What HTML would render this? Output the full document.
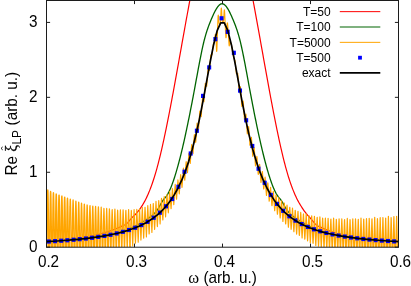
<!DOCTYPE html>
<html><head><meta charset="utf-8"><title>plot</title>
<style>html,body{margin:0;padding:0;background:#fff;}body{width:411px;height:286px;overflow:hidden;position:relative;font-family:"Liberation Sans",sans-serif;}</style>
</head><body>
<svg width="411" height="286" viewBox="0 0 411 286" style="position:absolute;left:0;top:0;display:block">
<defs><clipPath id="c"><rect x="46.5" y="0.5" width="352.0" height="246.7"/></clipPath></defs>
<rect width="411" height="286" fill="#fff"/>
<g clip-path="url(#c)" fill="none" stroke-linejoin="round">
<path d="M46.50,241.02 L47.00,240.99 L47.50,240.96 L48.00,240.94 L48.50,240.91 L49.00,240.88 L49.50,240.86 L50.00,240.83 L50.50,240.80 L51.00,240.77 L51.50,240.75 L52.00,240.72 L52.50,240.69 L53.00,240.66 L53.50,240.63 L54.00,240.60 L54.50,240.57 L55.00,240.53 L55.50,240.50 L56.00,240.47 L56.50,240.44 L57.00,240.40 L57.50,240.37 L58.00,240.34 L58.50,240.30 L59.00,240.27 L59.50,240.23 L60.00,240.19 L60.50,240.16 L61.00,240.12 L61.50,240.08 L62.00,240.04 L62.50,240.00 L63.00,239.96 L63.50,239.92 L64.00,239.88 L64.50,239.83 L65.00,239.79 L65.50,239.74 L66.00,239.70 L66.50,239.65 L67.00,239.61 L67.50,239.56 L68.00,239.51 L68.50,239.46 L69.00,239.41 L69.50,239.36 L70.00,239.31 L70.50,239.26 L71.00,239.20 L71.50,239.15 L72.00,239.09 L72.50,239.03 L73.00,238.98 L73.50,238.92 L74.00,238.86 L74.50,238.80 L75.00,238.74 L75.50,238.67 L76.00,238.61 L76.50,238.54 L77.00,238.48 L77.50,238.41 L78.00,238.34 L78.50,238.27 L79.00,238.20 L79.50,238.13 L80.00,238.06 L80.50,237.98 L81.00,237.91 L81.50,237.83 L82.00,237.75 L82.50,237.67 L83.00,237.59 L83.50,237.51 L84.00,237.43 L84.50,237.35 L85.00,237.26 L85.50,237.17 L86.00,237.08 L86.50,236.99 L87.00,236.90 L87.50,236.81 L88.00,236.72 L88.50,236.62 L89.00,236.52 L89.50,236.42 L90.00,236.32 L90.50,236.22 L91.00,236.12 L91.50,236.01 L92.00,235.91 L92.50,235.80 L93.00,235.69 L93.50,235.58 L94.00,235.47 L94.50,235.35 L95.00,235.24 L95.50,235.12 L96.00,235.00 L96.50,234.88 L97.00,234.76 L97.50,234.63 L98.00,234.51 L98.50,234.38 L99.00,234.25 L99.50,234.12 L100.00,233.99 L100.50,233.85 L101.00,233.72 L101.50,233.58 L102.00,233.44 L102.50,233.30 L103.00,233.15 L103.50,233.01 L104.00,232.86 L104.50,232.71 L105.00,232.56 L105.50,232.40 L106.00,232.25 L106.50,232.09 L107.00,231.93 L107.50,231.77 L108.00,231.60 L108.50,231.44 L109.00,231.27 L109.50,231.10 L110.00,230.93 L110.50,230.76 L111.00,230.58 L111.50,230.40 L112.00,230.22 L112.50,230.04 L113.00,229.85 L113.50,229.67 L114.00,229.48 L114.50,229.29 L115.00,229.09 L115.50,228.90 L116.00,228.70 L116.50,228.50 L117.00,228.30 L117.50,228.09 L118.00,227.89 L118.50,227.68 L119.00,227.46 L119.50,227.25 L120.00,227.03 L120.50,226.81 L121.00,226.59 L121.50,226.37 L122.00,226.14 L122.50,225.91 L123.00,225.68 L123.50,225.45 L124.00,225.21 L124.50,224.97 L125.00,224.72 L125.50,224.44 L126.00,224.12 L126.50,223.75 L127.00,223.33 L127.50,222.85 L128.00,222.32 L128.50,221.76 L129.00,221.18 L129.50,220.58 L130.00,219.97 L130.50,219.36 L131.00,218.77 L131.50,218.20 L132.00,217.66 L132.50,217.15 L133.00,216.66 L133.50,216.18 L134.00,215.70 L134.50,215.22 L135.00,214.73 L135.50,214.21 L136.00,213.69 L136.50,213.14 L137.00,212.58 L137.50,212.00 L138.00,211.40 L138.50,210.78 L139.00,210.15 L139.50,209.49 L140.00,208.81 L140.50,208.10 L141.00,207.38 L141.50,206.63 L142.00,205.86 L142.50,205.06 L143.00,204.23 L143.50,203.38 L144.00,202.50 L144.50,201.60 L145.00,200.67 L145.50,199.70 L146.00,198.71 L146.50,197.69 L147.00,196.63 L147.50,195.55 L148.00,194.43 L148.50,193.28 L149.00,192.09 L149.50,190.87 L150.00,189.62 L150.50,188.33 L151.00,187.00 L151.50,185.63 L152.00,184.23 L152.50,182.79 L153.00,181.31 L153.50,179.80 L154.00,178.24 L154.50,176.64 L155.00,175.00 L155.50,173.32 L156.00,171.60 L156.50,169.84 L157.00,168.04 L157.50,166.19 L158.00,164.30 L158.50,162.37 L159.00,160.41 L159.50,158.40 L160.00,156.36 L160.50,154.28 L161.00,152.17 L161.50,150.02 L162.00,147.84 L162.50,145.63 L163.00,143.38 L163.50,141.11 L164.00,138.80 L164.50,136.47 L165.00,134.11 L165.50,131.72 L166.00,129.31 L166.50,126.87 L167.00,124.41 L167.50,121.92 L168.00,119.41 L168.50,116.88 L169.00,114.33 L169.50,111.76 L170.00,109.17 L170.50,106.57 L171.00,103.94 L171.50,101.30 L172.00,98.64 L172.50,95.97 L173.00,93.28 L173.50,90.58 L174.00,87.87 L174.50,85.15 L175.00,82.41 L175.50,79.67 L176.00,76.92 L176.50,74.15 L177.00,71.39 L177.50,68.61 L178.00,65.83 L178.50,63.04 L179.00,60.25 L179.50,57.46 L180.00,54.66 L180.50,51.87 L181.00,49.07 L181.50,46.27 L182.00,43.47 L182.50,40.68 L183.00,37.89 L183.50,35.10 L184.00,32.31 L184.50,29.53 L185.00,26.76 L185.50,23.99 L186.00,21.23 L186.50,18.48 L187.00,15.74 L187.50,13.01 L188.00,10.29 L188.50,7.58 L189.00,4.88 L189.50,2.20 L190.00,-0.47 L190.50,-3.12 L191.00,-5.76 L191.50,-8.38 L192.00,-10.98 L192.50,-13.57 L193.00,-16.13 L193.50,-18.68 L194.00,-21.20 L194.50,-23.70 L195.00,-26.18 L195.50,-28.64 L196.00,-31.07 L196.50,-33.48 L197.00,-35.86 L197.50,-38.21 L198.00,-40.54 L198.50,-42.83 L199.00,-45.10 L199.50,-47.34 L200.00,-49.55 L200.50,-51.72 L201.00,-53.87 L201.50,-55.98 L202.00,-58.05 L202.50,-60.09 L203.00,-62.09 L203.50,-64.06 L204.00,-65.99 L204.50,-67.88 L205.00,-69.73 L205.50,-71.54 L206.00,-73.32 L206.50,-75.04 L207.00,-76.73 L207.50,-78.37 L208.00,-79.97 L208.50,-81.52 L209.00,-83.03 L209.50,-84.49 L210.00,-85.90 L210.50,-87.27 L211.00,-88.58 L211.50,-89.85 L212.00,-91.06 L212.50,-92.22 L213.00,-93.33 L213.50,-94.38 L214.00,-95.39 L214.50,-96.33 L215.00,-97.22 L215.50,-98.05 L216.00,-98.83 L216.50,-99.55 L217.00,-100.20 L217.50,-100.80 L218.00,-101.34 L218.50,-101.81 L219.00,-102.22 L219.50,-102.57 L220.00,-102.85 L220.50,-103.07 L221.00,-103.23 L221.50,-103.30 L222.00,-103.20 L222.50,-103.03 L223.00,-102.80 L223.50,-102.51 L224.00,-102.15 L224.50,-101.72 L225.00,-101.23 L225.50,-100.69 L226.00,-100.08 L226.50,-99.41 L227.00,-98.68 L227.50,-97.89 L228.00,-97.05 L228.50,-96.15 L229.00,-95.19 L229.50,-94.18 L230.00,-93.11 L230.50,-91.99 L231.00,-90.82 L231.50,-89.60 L232.00,-88.32 L232.50,-87.00 L233.00,-85.62 L233.50,-84.20 L234.00,-82.73 L234.50,-81.22 L235.00,-79.65 L235.50,-78.05 L236.00,-76.40 L236.50,-74.70 L237.00,-72.96 L237.50,-71.19 L238.00,-69.37 L238.50,-67.51 L239.00,-65.61 L239.50,-63.67 L240.00,-61.70 L240.50,-59.69 L241.00,-57.64 L241.50,-55.56 L242.00,-53.44 L242.50,-51.29 L243.00,-49.11 L243.50,-46.90 L244.00,-44.65 L244.50,-42.38 L245.00,-40.07 L245.50,-37.74 L246.00,-35.38 L246.50,-33.00 L247.00,-30.59 L247.50,-28.15 L248.00,-25.69 L248.50,-23.20 L249.00,-20.70 L249.50,-18.17 L250.00,-15.62 L250.50,-13.05 L251.00,-10.46 L251.50,-7.86 L252.00,-5.23 L252.50,-2.59 L253.00,0.06 L253.50,2.74 L254.00,5.42 L254.50,8.12 L255.00,10.83 L255.50,13.55 L256.00,16.29 L256.50,19.03 L257.00,21.78 L257.50,24.54 L258.00,27.31 L258.50,30.09 L259.00,32.87 L259.50,35.65 L260.00,38.44 L260.50,41.24 L261.00,44.03 L261.50,46.83 L262.00,49.63 L262.50,52.43 L263.00,55.22 L263.50,58.02 L264.00,60.81 L264.50,63.60 L265.00,66.39 L265.50,69.17 L266.00,71.94 L266.50,74.71 L267.00,77.47 L267.50,80.22 L268.00,82.96 L268.50,85.69 L269.00,88.42 L269.50,91.12 L270.00,93.82 L270.50,96.51 L271.00,99.17 L271.50,101.83 L272.00,104.47 L272.50,107.09 L273.00,109.69 L273.50,112.28 L274.00,114.85 L274.50,117.39 L275.00,119.92 L275.50,122.42 L276.00,124.90 L276.50,127.36 L277.00,129.79 L277.50,132.20 L278.00,134.58 L278.50,136.94 L279.00,139.27 L279.50,141.56 L280.00,143.83 L280.50,146.07 L281.00,148.28 L281.50,150.45 L282.00,152.59 L282.50,154.70 L283.00,156.77 L283.50,158.80 L284.00,160.80 L284.50,162.76 L285.00,164.68 L285.50,166.56 L286.00,168.40 L286.50,170.20 L287.00,171.95 L287.50,173.66 L288.00,175.33 L288.50,176.96 L289.00,178.55 L289.50,180.10 L290.00,181.61 L290.50,183.08 L291.00,184.52 L291.50,185.91 L292.00,187.27 L292.50,188.59 L293.00,189.87 L293.50,191.12 L294.00,192.33 L294.50,193.51 L295.00,194.66 L295.50,195.77 L296.00,196.85 L296.50,197.89 L297.00,198.91 L297.50,199.90 L298.00,200.85 L298.50,201.78 L299.00,202.68 L299.50,203.55 L300.00,204.40 L300.50,205.22 L301.00,206.01 L301.50,206.79 L302.00,207.59 L302.50,208.37 L303.00,209.13 L303.50,209.87 L304.00,210.58 L304.50,211.28 L305.00,211.95 L305.50,212.60 L306.00,213.24 L306.50,213.86 L307.00,214.46 L307.50,215.04 L308.00,215.61 L308.50,216.17 L309.00,216.71 L309.50,217.24 L310.00,217.78 L310.50,218.33 L311.00,218.91 L311.50,219.51 L312.00,220.08 L312.50,220.68 L313.00,221.29 L313.50,221.90 L314.00,222.50 L314.50,223.08 L315.00,223.63 L315.50,224.15 L316.00,224.62 L316.50,225.03 L317.00,225.39 L317.50,225.70 L318.00,225.97 L318.50,226.22 L319.00,226.46 L319.50,226.70 L320.00,226.93 L320.50,227.16 L321.00,227.39 L321.50,227.61 L322.00,227.84 L322.50,228.06 L323.00,228.28 L323.50,228.49 L324.00,228.71 L324.50,228.92 L325.00,229.13 L325.50,229.33 L326.00,229.54 L326.50,229.74 L327.00,229.94 L327.50,230.14 L328.00,230.33 L328.50,230.53 L329.00,230.72 L329.50,230.91 L330.00,231.09 L330.50,231.28 L331.00,231.46 L331.50,231.64 L332.00,231.82 L332.50,231.99 L333.00,232.16 L333.50,232.34 L334.00,232.51 L334.50,232.67 L335.00,232.84 L335.50,233.00 L336.00,233.16 L336.50,233.32 L337.00,233.48 L337.50,233.63 L338.00,233.79 L338.50,233.94 L339.00,234.09 L339.50,234.23 L340.00,234.38 L340.50,234.52 L341.00,234.67 L341.50,234.81 L342.00,234.94 L342.50,235.08 L343.00,235.21 L343.50,235.35 L344.00,235.48 L344.50,235.61 L345.00,235.73 L345.50,235.86 L346.00,235.98 L346.50,236.10 L347.00,236.20 L347.50,236.29 L348.00,236.39 L348.50,236.48 L349.00,236.57 L349.50,236.66 L350.00,236.74 L350.50,236.83 L351.00,236.91 L351.50,236.99 L352.00,237.07 L352.50,237.15 L353.00,237.23 L353.50,237.31 L354.00,237.38 L354.50,237.45 L355.00,237.52 L355.50,237.59 L356.00,237.66 L356.50,237.73 L357.00,237.79 L357.50,237.86 L358.00,237.92 L358.50,237.98 L359.00,238.04 L359.50,238.10 L360.00,238.16 L360.50,238.22 L361.00,238.27 L361.50,238.33 L362.00,238.38 L362.50,238.43 L363.00,238.48 L363.50,238.53 L364.00,238.58 L364.50,238.62 L365.00,238.67 L365.50,238.71 L366.00,238.75 L366.50,238.80 L367.00,238.84 L367.50,238.88 L368.00,238.91 L368.50,238.95 L369.00,238.99 L369.50,239.02 L370.00,239.06 L370.50,239.09 L371.00,239.12 L371.50,239.16 L372.00,239.21 L372.50,239.27 L373.00,239.32 L373.50,239.37 L374.00,239.42 L374.50,239.47 L375.00,239.52 L375.50,239.57 L376.00,239.62 L376.50,239.66 L377.00,239.71 L377.50,239.75 L378.00,239.80 L378.50,239.84 L379.00,239.88 L379.50,239.93 L380.00,239.97 L380.50,240.01 L381.00,240.05 L381.50,240.09 L382.00,240.13 L382.50,240.16 L383.00,240.20 L383.50,240.24 L384.00,240.27 L384.50,240.31 L385.00,240.34 L385.50,240.38 L386.00,240.41 L386.50,240.44 L387.00,240.48 L387.50,240.51 L388.00,240.54 L388.50,240.57 L389.00,240.60 L389.50,240.63 L390.00,240.66 L390.50,240.69 L391.00,240.72 L391.50,240.75 L392.00,240.78 L392.50,240.81 L393.00,240.83 L393.50,240.86 L394.00,240.89 L394.50,240.92 L395.00,240.94 L395.50,240.97 L396.00,241.00 L396.50,241.02 L397.00,241.05 L397.50,241.07 L398.00,241.10 L398.50,241.12" stroke="#ff0000" stroke-width="1.2"/>
<path d="M46.50,241.38 L47.00,241.32 L47.50,241.27 L48.00,241.21 L48.50,241.15 L49.00,241.09 L49.50,241.04 L50.00,240.99 L50.50,240.93 L51.00,240.88 L51.50,240.83 L52.00,240.78 L52.50,240.73 L53.00,240.69 L53.50,240.64 L54.00,240.60 L54.50,240.55 L55.00,240.51 L55.50,240.46 L56.00,240.42 L56.50,240.38 L57.00,240.34 L57.50,240.30 L58.00,240.26 L58.50,240.22 L59.00,240.18 L59.50,240.15 L60.00,240.11 L60.50,240.07 L61.00,240.04 L61.50,240.00 L62.00,239.97 L62.50,239.93 L63.00,239.90 L63.50,239.86 L64.00,239.83 L64.50,239.80 L65.00,239.77 L65.50,239.73 L66.00,239.70 L66.50,239.67 L67.00,239.64 L67.50,239.61 L68.00,239.57 L68.50,239.54 L69.00,239.51 L69.50,239.48 L70.00,239.45 L70.50,239.42 L71.00,239.39 L71.50,239.36 L72.00,239.33 L72.50,239.30 L73.00,239.27 L73.50,239.24 L74.00,239.20 L74.50,239.17 L75.00,239.14 L75.50,239.11 L76.00,239.08 L76.50,239.04 L77.00,239.01 L77.50,238.98 L78.00,238.94 L78.50,238.91 L79.00,238.88 L79.50,238.84 L80.00,238.81 L80.50,238.77 L81.00,238.74 L81.50,238.70 L82.00,238.66 L82.50,238.62 L83.00,238.59 L83.50,238.55 L84.00,238.51 L84.50,238.47 L85.00,238.42 L85.50,238.38 L86.00,238.34 L86.50,238.30 L87.00,238.25 L87.50,238.21 L88.00,238.16 L88.50,238.11 L89.00,238.07 L89.50,238.02 L90.00,237.97 L90.50,237.92 L91.00,237.86 L91.50,237.81 L92.00,237.76 L92.50,237.70 L93.00,237.65 L93.50,237.59 L94.00,237.53 L94.50,237.47 L95.00,237.41 L95.50,237.35 L96.00,237.28 L96.50,237.22 L97.00,237.15 L97.50,237.08 L98.00,237.01 L98.50,236.94 L99.00,236.87 L99.50,236.80 L100.00,236.72 L100.50,236.65 L101.00,236.57 L101.50,236.49 L102.00,236.41 L102.50,236.32 L103.00,236.24 L103.50,236.15 L104.00,236.07 L104.50,235.98 L105.00,235.88 L105.50,235.79 L106.00,235.70 L106.50,235.60 L107.00,235.50 L107.50,235.40 L108.00,235.30 L108.50,235.19 L109.00,235.09 L109.50,234.98 L110.00,234.87 L110.50,234.75 L111.00,234.64 L111.50,234.52 L112.00,234.40 L112.50,234.28 L113.00,234.16 L113.50,234.03 L114.00,233.90 L114.50,233.77 L115.00,233.64 L115.50,233.51 L116.00,233.37 L116.50,233.23 L117.00,233.09 L117.50,232.95 L118.00,232.80 L118.50,232.65 L119.00,232.50 L119.50,232.34 L120.00,232.19 L120.50,232.03 L121.00,231.87 L121.50,231.70 L122.00,231.53 L122.50,231.37 L123.00,231.19 L123.50,231.02 L124.00,230.84 L124.50,230.66 L125.00,230.48 L125.50,230.29 L126.00,230.10 L126.50,229.91 L127.00,229.71 L127.50,229.51 L128.00,229.31 L128.50,229.11 L129.00,228.90 L129.50,228.69 L130.00,228.48 L130.50,228.26 L131.00,228.04 L131.50,227.82 L132.00,227.60 L132.50,227.37 L133.00,227.13 L133.50,226.90 L134.00,226.66 L134.50,226.42 L135.00,226.17 L135.50,225.93 L136.00,225.67 L136.50,225.42 L137.00,225.16 L137.50,224.90 L138.00,224.63 L138.50,224.36 L139.00,224.09 L139.50,223.81 L140.00,223.53 L140.50,223.25 L141.00,222.96 L141.50,222.67 L142.00,222.38 L142.50,222.08 L143.00,221.78 L143.50,221.47 L144.00,221.16 L144.50,220.85 L145.00,220.53 L145.50,220.21 L146.00,219.88 L146.50,219.55 L147.00,219.22 L147.50,218.88 L148.00,218.54 L148.50,218.20 L149.00,217.85 L149.50,217.50 L150.00,217.14 L150.50,216.77 L151.00,216.40 L151.50,216.01 L152.00,215.61 L152.50,215.19 L153.00,214.76 L153.50,214.30 L154.00,213.82 L154.50,213.32 L155.00,212.79 L155.50,212.23 L156.00,211.64 L156.50,211.01 L157.00,210.35 L157.50,209.65 L158.00,208.91 L158.50,208.13 L159.00,207.30 L159.50,206.42 L160.00,205.52 L160.50,204.60 L161.00,203.68 L161.50,202.78 L162.00,201.91 L162.50,201.08 L163.00,200.32 L163.50,199.64 L164.00,199.03 L164.50,198.46 L165.00,197.90 L165.50,197.33 L166.00,196.71 L166.50,196.03 L167.00,195.29 L167.50,194.48 L168.00,193.61 L168.50,192.68 L169.00,191.69 L169.50,190.65 L170.00,189.55 L170.50,188.40 L171.00,187.19 L171.50,185.94 L172.00,184.63 L172.50,183.28 L173.00,181.89 L173.50,180.45 L174.00,178.96 L174.50,177.43 L175.00,175.87 L175.50,174.26 L176.00,172.61 L176.50,170.92 L177.00,169.19 L177.50,167.43 L178.00,165.62 L178.50,163.78 L179.00,161.91 L179.50,159.99 L180.00,158.05 L180.50,156.06 L181.00,154.05 L181.50,152.00 L182.00,149.92 L182.50,147.81 L183.00,145.66 L183.50,143.49 L184.00,141.29 L184.50,139.06 L185.00,136.79 L185.50,134.51 L186.00,132.19 L186.50,129.85 L187.00,127.48 L187.50,125.09 L188.00,122.67 L188.50,120.23 L189.00,117.77 L189.50,115.28 L190.00,112.77 L190.50,110.24 L191.00,107.69 L191.50,105.12 L192.00,102.53 L192.50,99.92 L193.00,97.30 L193.50,94.66 L194.00,92.00 L194.50,89.32 L195.00,86.63 L195.50,83.93 L196.00,81.21 L196.50,78.49 L197.00,75.77 L197.50,73.05 L198.00,70.35 L198.50,67.67 L199.00,65.01 L199.50,62.39 L200.00,59.80 L200.50,57.26 L201.00,54.76 L201.50,52.32 L202.00,49.95 L202.50,47.64 L203.00,45.41 L203.50,43.26 L204.00,41.19 L204.50,39.22 L205.00,37.34 L205.50,35.55 L206.00,33.85 L206.50,32.23 L207.00,30.67 L207.50,29.19 L208.00,27.76 L208.50,26.38 L209.00,25.05 L209.50,23.76 L210.00,22.50 L210.50,21.27 L211.00,20.06 L211.50,18.87 L212.00,17.70 L212.50,16.55 L213.00,15.43 L213.50,14.34 L214.00,13.29 L214.50,12.27 L215.00,11.29 L215.50,10.36 L216.00,9.47 L216.50,8.64 L217.00,7.86 L217.50,7.13 L218.00,6.47 L218.50,5.87 L219.00,5.34 L219.50,4.87 L220.00,4.48 L220.50,4.17 L221.00,3.94 L221.50,3.79 L222.00,3.73 L222.50,3.76 L223.00,3.87 L223.50,4.07 L224.00,4.35 L224.50,4.71 L225.00,5.14 L225.50,5.65 L226.00,6.22 L226.50,6.86 L227.00,7.56 L227.50,8.32 L228.00,9.13 L228.50,10.00 L229.00,10.91 L229.50,11.87 L230.00,12.88 L230.50,13.92 L231.00,14.99 L231.50,16.10 L232.00,17.24 L232.50,18.40 L233.00,19.58 L233.50,20.78 L234.00,22.01 L234.50,23.25 L235.00,24.53 L235.50,25.84 L236.00,27.20 L236.50,28.61 L237.00,30.07 L237.50,31.60 L238.00,33.19 L238.50,34.86 L239.00,36.62 L239.50,38.46 L240.00,40.39 L240.50,42.42 L241.00,44.54 L241.50,46.74 L242.00,49.02 L242.50,51.37 L243.00,53.78 L243.50,56.25 L244.00,58.78 L244.50,61.35 L245.00,63.96 L245.50,66.61 L246.00,69.28 L246.50,71.97 L247.00,74.68 L247.50,77.40 L248.00,80.12 L248.50,82.84 L249.00,85.55 L249.50,88.25 L250.00,90.93 L250.50,93.59 L251.00,96.24 L251.50,98.88 L252.00,101.49 L252.50,104.09 L253.00,106.67 L253.50,109.22 L254.00,111.76 L254.50,114.28 L255.00,116.77 L255.50,119.25 L256.00,121.70 L256.50,124.12 L257.00,126.53 L257.50,128.90 L258.00,131.26 L258.50,133.58 L259.00,135.88 L259.50,138.15 L260.00,140.40 L260.50,142.61 L261.00,144.80 L261.50,146.95 L262.00,149.08 L262.50,151.17 L263.00,153.23 L263.50,155.26 L264.00,157.26 L264.50,159.22 L265.00,161.15 L265.50,163.04 L266.00,164.89 L266.50,166.71 L267.00,168.49 L267.50,170.23 L268.00,171.94 L268.50,173.60 L269.00,175.23 L269.50,176.81 L270.00,178.36 L270.50,179.86 L271.00,181.32 L271.50,182.73 L272.00,184.10 L272.50,185.42 L273.00,186.70 L273.50,187.92 L274.00,189.10 L274.50,190.22 L275.00,191.28 L275.50,192.29 L276.00,193.25 L276.50,194.14 L277.00,194.97 L277.50,195.74 L278.00,196.45 L278.50,197.09 L279.00,197.68 L279.50,198.24 L280.00,198.80 L280.50,199.39 L281.00,200.04 L281.50,200.77 L282.00,201.57 L282.50,202.42 L283.00,203.32 L283.50,204.23 L284.00,205.15 L284.50,206.07 L285.00,206.95 L285.50,207.80 L286.00,208.60 L286.50,209.36 L287.00,210.08 L287.50,210.75 L288.00,211.39 L288.50,212.00 L289.00,212.57 L289.50,213.11 L290.00,213.63 L290.50,214.11 L291.00,214.58 L291.50,215.02 L292.00,215.45 L292.50,215.85 L293.00,216.24 L293.50,216.62 L294.00,216.99 L294.50,217.35 L295.00,217.71 L295.50,218.06 L296.00,218.41 L296.50,218.75 L297.00,219.09 L297.50,219.42 L298.00,219.75 L298.50,220.08 L299.00,220.40 L299.50,220.72 L300.00,221.04 L300.50,221.35 L301.00,221.65 L301.50,221.96 L302.00,222.26 L302.50,222.55 L303.00,222.85 L303.50,223.13 L304.00,223.42 L304.50,223.70 L305.00,223.98 L305.50,224.25 L306.00,224.52 L306.50,224.79 L307.00,225.05 L307.50,225.31 L308.00,225.57 L308.50,225.82 L309.00,226.07 L309.50,226.32 L310.00,226.56 L310.50,226.80 L311.00,227.04 L311.50,227.27 L312.00,227.50 L312.50,227.73 L313.00,227.96 L313.50,228.18 L314.00,228.39 L314.50,228.61 L315.00,228.82 L315.50,229.03 L316.00,229.23 L316.50,229.43 L317.00,229.63 L317.50,229.83 L318.00,230.02 L318.50,230.21 L319.00,230.40 L319.50,230.59 L320.00,230.77 L320.50,230.95 L321.00,231.12 L321.50,231.30 L322.00,231.47 L322.50,231.64 L323.00,231.80 L323.50,231.96 L324.00,232.12 L324.50,232.28 L325.00,232.44 L325.50,232.59 L326.00,232.74 L326.50,232.89 L327.00,233.03 L327.50,233.18 L328.00,233.32 L328.50,233.45 L329.00,233.59 L329.50,233.72 L330.00,233.85 L330.50,233.98 L331.00,234.11 L331.50,234.23 L332.00,234.35 L332.50,234.47 L333.00,234.59 L333.50,234.71 L334.00,234.82 L334.50,234.93 L335.00,235.04 L335.50,235.15 L336.00,235.25 L336.50,235.36 L337.00,235.46 L337.50,235.56 L338.00,235.66 L338.50,235.75 L339.00,235.85 L339.50,235.94 L340.00,236.03 L340.50,236.12 L341.00,236.21 L341.50,236.29 L342.00,236.37 L342.50,236.46 L343.00,236.54 L343.50,236.62 L344.00,236.69 L344.50,236.77 L345.00,236.84 L345.50,236.92 L346.00,236.99 L346.50,237.06 L347.00,237.12 L347.50,237.19 L348.00,237.26 L348.50,237.32 L349.00,237.38 L349.50,237.45 L350.00,237.51 L350.50,237.57 L351.00,237.62 L351.50,237.68 L352.00,237.74 L352.50,237.79 L353.00,237.84 L353.50,237.90 L354.00,237.95 L354.50,238.00 L355.00,238.05 L355.50,238.09 L356.00,238.14 L356.50,238.19 L357.00,238.23 L357.50,238.28 L358.00,238.32 L358.50,238.37 L359.00,238.41 L359.50,238.45 L360.00,238.49 L360.50,238.53 L361.00,238.57 L361.50,238.61 L362.00,238.65 L362.50,238.68 L363.00,238.72 L363.50,238.76 L364.00,238.79 L364.50,238.83 L365.00,238.86 L365.50,238.90 L366.00,238.93 L366.50,238.97 L367.00,239.00 L367.50,239.03 L368.00,239.06 L368.50,239.10 L369.00,239.13 L369.50,239.16 L370.00,239.19 L370.50,239.22 L371.00,239.25 L371.50,239.28 L372.00,239.32 L372.50,239.35 L373.00,239.38 L373.50,239.41 L374.00,239.44 L374.50,239.47 L375.00,239.50 L375.50,239.53 L376.00,239.56 L376.50,239.59 L377.00,239.62 L377.50,239.66 L378.00,239.69 L378.50,239.72 L379.00,239.75 L379.50,239.78 L380.00,239.82 L380.50,239.85 L381.00,239.88 L381.50,239.92 L382.00,239.95 L382.50,239.99 L383.00,240.02 L383.50,240.06 L384.00,240.09 L384.50,240.13 L385.00,240.17 L385.50,240.21 L386.00,240.24 L386.50,240.28 L387.00,240.32 L387.50,240.36 L388.00,240.40 L388.50,240.45 L389.00,240.49 L389.50,240.53 L390.00,240.58 L390.50,240.62 L391.00,240.67 L391.50,240.72 L392.00,240.76 L392.50,240.81 L393.00,240.86 L393.50,240.91 L394.00,240.97 L394.50,241.02 L395.00,241.07 L395.50,241.13 L396.00,241.18 L396.50,241.24 L397.00,241.30 L397.50,241.36 L398.00,241.42 L398.50,241.48" stroke="#006400" stroke-width="1.3"/>
<path d="M46.50,247.20 L46.60,247.20 L46.70,247.20 L46.80,247.20 L46.90,247.20 L47.00,240.70 L47.10,230.36 L47.20,220.68 L47.30,211.97 L47.40,204.47 L47.50,198.39 L47.60,193.89 L47.70,191.09 L47.80,190.07 L47.90,190.84 L48.00,193.39 L48.10,197.63 L48.20,203.46 L48.30,210.69 L48.40,219.12 L48.50,228.50 L48.60,238.56 L48.70,247.20 L48.80,247.20 L48.90,247.20 L49.00,247.20 L49.10,247.20 L49.20,247.20 L49.30,247.20 L49.40,247.20 L49.50,247.20 L49.60,247.20 L49.70,247.20 L49.80,241.60 L49.90,231.54 L50.00,222.10 L50.10,213.55 L50.20,206.15 L50.30,200.11 L50.40,195.58 L50.50,192.69 L50.60,191.52 L50.70,192.09 L50.80,194.38 L50.90,198.33 L51.00,203.82 L51.10,210.70 L51.20,218.77 L51.30,227.79 L51.40,237.49 L51.50,247.20 L51.60,247.20 L51.70,247.20 L51.80,247.20 L51.90,247.20 L52.00,247.20 L52.10,247.20 L52.20,247.20 L52.30,247.20 L52.40,247.20 L52.50,247.20 L52.60,242.42 L52.70,232.61 L52.80,223.37 L52.90,214.97 L53.00,207.66 L53.10,201.64 L53.20,197.08 L53.30,194.11 L53.40,192.80 L53.50,193.18 L53.60,195.24 L53.70,198.92 L53.80,204.11 L53.90,210.66 L54.00,218.40 L54.10,227.08 L54.20,236.46 L54.30,246.24 L54.40,247.20 L54.50,247.20 L54.60,247.20 L54.70,247.20 L54.80,247.20 L54.90,247.20 L55.00,247.20 L55.10,247.20 L55.20,247.20 L55.30,247.20 L55.40,243.19 L55.50,233.60 L55.60,224.54 L55.70,216.27 L55.80,209.04 L55.90,203.05 L56.00,198.47 L56.10,195.41 L56.20,193.97 L56.30,194.17 L56.40,196.01 L56.50,199.44 L56.60,204.35 L56.70,210.60 L56.80,218.02 L56.90,226.40 L57.00,235.47 L57.10,244.97 L57.20,247.20 L57.30,247.20 L57.40,247.20 L57.50,247.20 L57.60,247.20 L57.70,247.20 L57.80,247.20 L57.90,247.20 L58.00,247.20 L58.10,247.20 L58.20,243.90 L58.30,234.53 L58.40,225.64 L58.50,217.50 L58.60,210.35 L58.70,204.38 L58.80,199.77 L58.90,196.65 L59.00,195.08 L59.10,195.12 L59.20,196.75 L59.30,199.93 L59.40,204.58 L59.50,210.54 L59.60,217.67 L59.70,225.74 L59.80,234.52 L59.90,243.74 L60.00,247.20 L60.10,247.20 L60.20,247.20 L60.30,247.20 L60.40,247.20 L60.50,247.20 L60.60,247.20 L60.70,247.20 L60.80,247.20 L60.90,247.20 L61.00,244.63 L61.10,235.51 L61.20,226.84 L61.30,218.86 L61.40,211.82 L61.50,205.89 L61.60,201.25 L61.70,198.01 L61.80,196.25 L61.90,196.11 L62.00,197.66 L62.10,200.70 L62.20,205.14 L62.30,210.86 L62.40,217.70 L62.50,225.44 L62.60,233.88 L62.70,242.76 L62.80,247.20 L62.90,247.20 L63.00,247.20 L63.10,247.20 L63.20,247.20 L63.30,247.20 L63.40,247.20 L63.50,247.20 L63.60,247.20 L63.70,247.20 L63.80,245.40 L63.90,236.59 L64.00,228.17 L64.10,220.39 L64.20,213.46 L64.30,207.58 L64.40,202.89 L64.50,199.51 L64.60,197.51 L64.70,197.14 L64.80,198.65 L64.90,201.58 L65.00,205.83 L65.10,211.30 L65.20,217.82 L65.30,225.23 L65.40,233.31 L65.50,241.83 L65.60,247.20 L65.70,247.20 L65.80,247.20 L65.90,247.20 L66.00,247.20 L66.10,247.20 L66.20,247.20 L66.30,247.20 L66.40,247.20 L66.50,247.20 L66.60,246.09 L66.70,237.58 L66.80,229.43 L66.90,221.85 L67.00,215.05 L67.10,209.22 L67.20,204.50 L67.30,201.00 L67.40,198.80 L67.50,198.13 L67.60,199.62 L67.70,202.44 L67.80,206.51 L67.90,211.74 L68.00,217.97 L68.10,225.05 L68.20,232.78 L68.30,240.94 L68.40,247.20 L68.50,247.20 L68.60,247.20 L68.70,247.20 L68.80,247.20 L68.90,247.20 L69.00,247.20 L69.10,247.20 L69.20,247.20 L69.30,247.20 L69.40,246.68 L69.50,238.49 L69.60,230.60 L69.70,223.22 L69.80,216.57 L69.90,210.81 L70.00,206.08" stroke="#ffa500" stroke-width="1.4"/>
<path d="M70.00,206.08 L70.10,202.48 L70.20,200.09 L70.30,199.09 L70.40,200.56 L70.50,203.28 L70.60,207.18 L70.70,212.17 L70.80,218.13 L70.90,224.89 L71.00,232.29 L71.10,240.10 L71.20,247.20 L71.30,247.20 L71.40,247.20 L71.50,247.20 L71.60,247.20 L71.70,247.20 L71.80,247.20 L71.90,247.20 L72.00,247.20 L72.10,247.20 L72.20,247.20 L72.30,239.31 L72.40,231.68 L72.50,224.52 L72.60,218.01 L72.70,212.33 L72.80,207.60 L72.90,203.92 L73.00,201.37 L73.10,199.99 L73.20,201.45 L73.30,204.08 L73.40,207.83 L73.50,212.60 L73.60,218.29 L73.70,224.75 L73.80,231.82 L73.90,239.30 L74.00,246.98 L74.10,247.20 L74.20,247.20 L74.30,247.20 L74.40,247.20 L74.50,247.20 L74.60,247.20 L74.70,247.20 L74.80,247.20 L74.90,247.20 L75.00,247.20 L75.10,240.04 L75.20,232.67 L75.30,225.72 L75.40,219.37 L75.50,213.78 L75.60,209.06 L75.70,205.32 L75.80,202.63 L75.90,201.03 L76.00,202.29 L76.10,204.84 L76.20,208.44 L76.30,213.01 L76.40,218.45 L76.50,224.62 L76.60,231.38 L76.70,238.53 L76.80,245.90 L76.90,247.20 L77.00,247.20 L77.10,247.20 L77.20,247.20 L77.30,247.20 L77.40,247.20 L77.50,247.20 L77.60,247.20 L77.70,247.20 L77.80,247.20 L77.90,240.68 L78.00,233.57 L78.10,226.84 L78.20,220.65 L78.30,215.15 L78.40,210.46 L78.50,206.67 L78.60,203.86 L78.70,202.06 L78.80,203.07 L78.90,205.56 L79.00,209.02 L79.10,213.40 L79.20,218.60 L79.30,224.50 L79.40,230.95 L79.50,237.80 L79.60,244.86 L79.70,247.20 L79.80,247.20 L79.90,247.20 L80.00,247.20 L80.10,247.20 L80.20,247.20 L80.30,247.20 L80.40,247.20 L80.50,247.20 L80.60,247.20 L80.70,241.25 L80.80,234.39 L80.90,227.87 L81.00,221.84 L81.10,216.44 L81.20,211.78 L81.30,207.97 L81.40,205.05 L81.50,203.08 L81.60,203.80 L81.70,206.22 L81.80,209.56 L81.90,213.77 L82.00,218.74 L82.10,224.38 L82.20,230.54 L82.30,237.09 L82.40,243.86 L82.50,247.20 L82.60,247.20 L82.70,247.20 L82.80,247.20 L82.90,247.20 L83.00,247.20 L83.10,247.20 L83.20,247.20 L83.30,247.20 L83.40,247.20 L83.50,241.73 L83.60,235.12 L83.70,228.81 L83.80,222.94 L83.90,217.64 L84.00,213.03 L84.10,209.19 L84.20,206.19 L84.30,204.06 L84.40,204.45 L84.50,206.82 L84.60,210.05 L84.70,214.09 L84.80,218.86 L84.90,224.25 L85.00,230.14 L85.10,236.41 L85.20,242.90 L85.30,247.20 L85.40,247.20 L85.50,247.20 L85.60,247.20 L85.70,247.20 L85.80,247.20 L85.90,247.20 L86.00,247.20 L86.10,247.20 L86.20,247.20 L86.30,242.14 L86.40,235.77 L86.50,229.66 L86.60,223.95 L86.70,218.76 L86.80,214.21 L86.90,210.36 L87.00,207.28 L87.10,205.01 L87.20,205.04 L87.30,207.36 L87.40,210.50 L87.50,214.38 L87.60,218.95 L87.70,224.11 L87.80,229.75 L87.90,235.75 L88.00,241.96 L88.10,247.20 L88.20,247.20 L88.30,247.20 L88.40,247.20 L88.50,247.20 L88.60,247.20 L88.70,247.20 L88.80,247.20 L88.90,247.20 L89.00,247.20 L89.10,242.47 L89.20,236.33 L89.30,230.42 L89.40,224.88 L89.50,219.81 L89.60,215.31 L89.70,211.46 L89.80,208.32 L89.90,205.93 L90.00,205.56 L90.10,207.85 L90.20,210.90 L90.30,214.64 L90.40,219.03 L90.50,223.97 L90.60,229.36 L90.70,235.10 L90.80,241.06 L90.90,247.08 L91.00,247.20 L91.10,247.20 L91.20,247.20 L91.30,247.20 L91.40,247.20 L91.50,247.20 L91.60,247.20 L91.70,247.20 L91.80,247.20 L91.90,242.72 L92.00,236.81 L92.10,231.11 L92.20,225.72 L92.30,220.77 L92.40,216.33 L92.50,212.50 L92.60,209.31 L92.70,206.82 L92.80,206.03 L92.90,208.30 L93.00,211.25 L93.10,214.87 L93.20,219.08 L93.30,223.81 L93.40,228.98 L93.50,234.47 L93.60,240.17 L93.70,245.95 L93.80,247.20 L93.90,247.20 L94.00,247.20 L94.10,247.20 L94.20,247.20 L94.30,247.20 L94.40,247.20 L94.50,247.20 L94.60,247.20 L94.70,242.90 L94.80,237.22 L94.90,231.71 L95.00,226.49 L95.10,221.65 L95.20,217.29 L95.30,213.48 L95.40,210.26 L95.50,207.68 L95.60,206.45 L95.70,208.69 L95.80,211.57 L95.90,215.06 L96.00,219.11 L96.10,223.65 L96.20,228.59 L96.30,233.84 L96.40,239.30 L96.50,244.84 L96.60,247.20 L96.70,247.20 L96.80,247.20 L96.90,247.20 L97.00,247.20 L97.10,247.20 L97.20,247.20 L97.30,247.20 L97.40,247.20 L97.50,243.00 L97.60,237.54 L97.70,232.23 L97.80,227.17 L97.90,222.46 L98.00,218.18 L98.10,214.40 L98.20,211.16 L98.30,208.51 L98.40,206.81 L98.50,209.03 L98.60,211.85 L98.70,215.23 L98.80,219.12 L98.90,223.47 L99.00,228.20 L99.10,233.22 L99.20,238.44 L99.30,243.75 L99.40,247.20 L99.50,247.20 L99.60,247.20 L99.70,247.20 L99.80,247.20 L99.90,247.20 L100.00,247.20" stroke="#ffa500" stroke-width="1.3"/>
<path d="M100.00,247.20 L100.10,247.20 L100.20,247.20 L100.30,243.03 L100.40,237.78 L100.50,232.66 L100.60,227.77 L100.70,223.19 L100.80,219.00 L100.90,215.26 L101.00,212.02 L101.10,209.30 L101.20,207.13 L101.30,209.40 L101.40,212.25 L101.50,215.63 L101.60,219.52 L101.70,223.84 L101.80,228.53 L101.90,233.49 L102.00,238.63 L102.10,243.85 L102.20,247.20 L102.30,247.20 L102.40,247.20 L102.50,247.20 L102.60,247.20 L102.70,247.20 L102.80,247.20 L102.90,247.20 L103.00,245.71 L103.10,240.53 L103.20,235.41 L103.30,230.46 L103.40,225.76 L103.50,221.39 L103.60,217.43 L103.70,213.93 L103.80,210.92 L103.90,208.44 L104.00,208.91 L104.10,211.54 L104.20,214.67 L104.30,218.28 L104.40,222.31 L104.50,226.70 L104.60,231.38 L104.70,236.25 L104.80,241.24 L104.90,246.22 L105.00,247.20 L105.10,247.20 L105.20,247.20 L105.30,247.20 L105.40,247.20 L105.50,247.20 L105.60,247.20 L105.70,246.98 L105.80,242.02 L105.90,237.08 L106.00,232.25 L106.10,227.62 L106.20,223.28 L106.30,219.28 L106.40,215.67 L106.50,212.51 L106.60,209.82 L106.70,208.44 L106.80,210.88 L106.90,213.79 L107.00,217.14 L107.10,220.90 L107.20,225.01 L107.30,229.41 L107.40,234.02 L107.50,238.76 L107.60,243.54 L107.70,247.20 L107.80,247.20 L107.90,247.20 L108.00,247.20 L108.10,247.20 L108.20,247.20 L108.30,247.20 L108.40,247.20 L108.50,243.31 L108.60,238.56 L108.70,233.88 L108.80,229.35 L108.90,225.05 L109.00,221.04 L109.10,217.38 L109.20,214.10 L109.30,211.24 L109.40,208.82 L109.50,210.24 L109.60,212.95 L109.70,216.08 L109.80,219.59 L109.90,223.44 L110.00,227.57 L110.10,231.92 L110.20,236.41 L110.30,240.96 L110.40,245.50 L110.50,247.20 L110.60,247.20 L110.70,247.20 L110.80,247.20 L110.90,247.20 L111.00,247.20 L111.10,247.20 L111.20,244.28 L111.30,239.74 L111.40,235.23 L111.50,230.83 L111.60,226.62 L111.70,222.64 L111.80,218.97 L111.90,215.63 L112.00,212.66 L112.10,210.07 L112.20,209.61 L112.30,212.14 L112.40,215.04 L112.50,218.30 L112.60,221.88 L112.70,225.73 L112.80,229.79 L112.90,234.02 L113.00,238.32 L113.10,242.65 L113.20,246.90 L113.30,247.20 L113.40,247.20 L113.50,247.20 L113.60,247.20 L113.70,247.20 L113.80,247.20 L113.90,244.88 L114.00,240.58 L114.10,236.28 L114.20,232.05 L114.30,227.96 L114.40,224.07 L114.50,220.43 L114.60,217.07 L114.70,214.03 L114.80,211.33 L114.90,208.98 L115.00,211.35 L115.10,214.06 L115.20,217.09 L115.30,220.42 L115.40,224.01 L115.50,227.81 L115.60,231.77 L115.70,235.83 L115.80,239.92 L115.90,243.99 L116.00,247.20 L116.10,247.20 L116.20,247.20 L116.30,247.20 L116.40,247.20 L116.50,247.20 L116.60,245.26 L116.70,241.20 L116.80,237.12 L116.90,233.07 L117.00,229.13 L117.10,225.34 L117.20,221.75 L117.30,218.41 L117.40,215.34 L117.50,212.56 L117.60,210.09 L117.70,210.57 L117.80,213.11 L117.90,215.94 L118.00,219.05 L118.10,222.39 L118.20,225.94 L118.30,229.64 L118.40,233.46 L118.50,237.33 L118.60,241.19 L118.70,244.98 L118.80,247.20 L118.90,247.20 L119.00,247.20 L119.10,247.20 L119.20,247.20 L119.30,245.42 L119.40,241.60 L119.50,237.73 L119.60,233.88 L119.70,230.09 L119.80,226.43 L119.90,222.93 L120.00,219.63 L120.10,216.56 L120.20,213.74 L120.30,211.19 L120.40,209.79 L120.50,212.18 L120.60,214.84 L120.70,217.74 L120.80,220.86 L120.90,224.17 L121.00,227.64 L121.10,231.21 L121.20,234.85 L121.30,238.51 L121.40,242.12 L121.50,245.64 L121.60,247.20 L121.70,247.20 L121.80,247.20 L121.90,247.20 L122.00,245.35 L122.10,241.77 L122.20,238.12 L122.30,234.46 L122.40,230.85 L122.50,227.33 L122.60,223.93 L122.70,220.70 L122.80,217.66 L122.90,214.83 L123.00,212.24 L123.10,209.87 L123.20,211.27 L123.30,213.77 L123.40,216.49 L123.50,219.40 L123.60,222.49 L123.70,225.73 L123.80,229.07 L123.90,232.49 L124.00,235.93 L124.10,239.36 L124.20,242.72 L124.30,245.96 L124.40,247.20 L124.50,247.20 L124.60,247.20 L124.70,245.06 L124.80,241.71 L124.90,238.28 L125.00,234.83 L125.10,231.40 L125.20,228.04 L125.30,224.78 L125.40,221.64 L125.50,218.66 L125.60,215.86 L125.70,213.25 L125.80,210.83 L125.90,210.38 L126.00,212.75 L126.10,215.31 L126.20,218.05 L126.30,220.95 L126.40,223.98 L126.50,227.12 L126.60,230.33 L126.70,233.59 L126.80,236.84 L126.90,240.06 L127.00,243.18 L127.10,246.17 L127.20,247.20 L127.30,247.20 L127.40,244.81 L127.50,241.67 L127.60,238.45 L127.70,235.18 L127.80,231.92 L127.90,228.70 L128.00,225.56 L128.10,222.51 L128.20,219.60 L128.30,216.82 L128.40,214.21 L128.50,211.76 L128.60,209.49 L128.70,211.76 L128.80,214.19 L128.90,216.78 L129.00,219.51 L129.10,222.36 L129.20,225.31 L129.30,228.33 L129.40,231.40 L129.50,234.47 L129.60,237.53 L129.70,240.53 L129.80,243.43 L129.90,246.17 L130.00,247.15" stroke="#ffa500" stroke-width="1.2"/>
<path d="M130.00,247.15 L130.10,244.39 L130.20,241.45 L130.30,238.42 L130.40,235.33 L130.50,232.24 L130.60,229.17 L130.70,226.15 L130.80,223.21 L130.90,220.37 L131.00,217.65 L131.10,215.05 L131.20,212.60 L131.30,210.28 L131.40,210.73 L131.50,213.05 L131.60,215.51 L131.70,218.09 L131.80,220.77 L131.90,223.54 L132.00,226.39 L132.10,229.27 L132.20,232.18 L132.30,235.07 L132.40,237.94 L132.50,240.73 L132.60,243.41 L132.70,245.89 L132.80,243.81 L132.90,241.05 L133.00,238.19 L133.10,235.28 L133.20,232.35 L133.30,229.43 L133.40,226.54 L133.50,223.71 L133.60,220.96 L133.70,218.30 L133.80,215.74 L133.90,213.29 L134.00,210.96 L134.10,209.62 L134.20,211.85 L134.30,214.20 L134.40,216.64 L134.50,219.18 L134.60,221.80 L134.70,224.47 L134.80,227.19 L134.90,229.94 L135.00,232.68 L135.10,235.41 L135.20,238.08 L135.30,240.68 L135.40,243.16 L135.50,243.10 L135.60,240.50 L135.70,237.80 L135.80,235.04 L135.90,232.26 L136.00,229.48 L136.10,226.72 L136.20,224.01 L136.30,221.35 L136.40,218.75 L136.50,216.24 L136.60,213.81 L136.70,211.48 L136.80,209.24 L136.90,210.54 L137.00,212.80 L137.10,215.14 L137.20,217.55 L137.30,220.04 L137.40,222.57 L137.50,225.14 L137.60,227.74 L137.70,230.34 L137.80,232.94 L137.90,235.50 L138.00,238.02 L138.10,240.45 L138.20,242.29 L138.30,239.83 L138.40,237.27 L138.50,234.65 L138.60,232.00 L138.70,229.35 L138.80,226.71 L138.90,224.10 L139.00,221.52 L139.10,219.00 L139.20,216.53 L139.30,214.13 L139.40,211.80 L139.50,209.53 L139.60,209.07 L139.70,211.26 L139.80,213.52 L139.90,215.84 L140.00,218.22 L140.10,220.63 L140.20,223.08 L140.30,225.55 L140.40,228.04 L140.50,230.51 L140.60,232.98 L140.70,235.41 L140.80,237.79 L140.90,240.09 L141.00,239.09 L141.10,236.64 L141.20,234.13 L141.30,231.59 L141.40,229.05 L141.50,226.51 L141.60,223.98 L141.70,221.48 L141.80,219.02 L141.90,216.59 L142.00,214.21 L142.10,211.88 L142.20,209.60 L142.30,207.38 L142.40,209.54 L142.50,211.75 L142.60,214.00 L142.70,216.29 L142.80,218.62 L142.90,220.98 L143.00,223.35 L143.10,225.73 L143.20,228.11 L143.30,230.48 L143.40,232.84 L143.50,235.16 L143.60,237.44 L143.70,238.29 L143.80,235.91 L143.90,233.49 L144.00,231.04 L144.10,228.58 L144.20,226.13 L144.30,223.68 L144.40,221.25 L144.50,218.84 L144.60,216.46 L144.70,214.10 L144.80,211.78 L144.90,209.49 L145.00,207.23 L145.10,207.63 L145.20,209.82 L145.30,212.03 L145.40,214.27 L145.50,216.53 L145.60,218.80 L145.70,221.09 L145.80,223.38 L145.90,225.67 L146.00,227.95 L146.10,230.23 L146.20,232.48 L146.30,234.72 L146.40,236.91 L146.50,235.03 L146.60,232.68 L146.70,230.30 L146.80,227.93 L146.90,225.55 L147.00,223.18 L147.10,220.82 L147.20,218.47 L147.30,216.14 L147.40,213.83 L147.50,211.53 L147.60,209.24 L147.70,206.98 L147.80,205.61 L147.90,207.78 L148.00,209.96 L148.10,212.15 L148.20,214.35 L148.30,216.55 L148.40,218.75 L148.50,220.95 L148.60,223.15 L148.70,225.34 L148.80,227.52 L148.90,229.69 L149.00,231.85 L149.10,234.00 L149.20,233.92 L149.30,231.62 L149.40,229.32 L149.50,227.02 L149.60,224.73 L149.70,222.45 L149.80,220.18 L149.90,217.91 L150.00,215.65 L150.10,213.39 L150.20,211.14 L150.30,208.89 L150.40,206.65 L150.50,204.41 L150.60,205.67 L150.70,207.81 L150.80,209.94 L150.90,212.06 L151.00,214.18 L151.10,216.29 L151.20,218.39 L151.30,220.49 L151.40,222.58 L151.50,224.66 L151.60,226.74 L151.70,228.81 L151.80,230.88 L151.90,232.51 L152.00,230.27 L152.10,228.05 L152.20,225.83 L152.30,223.61 L152.40,221.41 L152.50,219.20 L152.60,217.01 L152.70,214.82 L152.80,212.63 L152.90,210.46 L153.00,208.29 L153.10,206.12 L153.20,203.96 L153.30,203.49 L153.40,205.54 L153.50,207.58 L153.60,209.61 L153.70,211.64 L153.80,213.66 L153.90,215.67 L154.00,217.67 L154.10,219.67 L154.20,221.66 L154.30,223.64 L154.40,225.62 L154.50,227.58 L154.60,229.54 L154.70,228.62 L154.80,226.48 L154.90,224.34 L155.00,222.21 L155.10,220.08 L155.20,217.96 L155.30,215.85 L155.40,213.74 L155.50,211.65 L155.60,209.56 L155.70,207.47 L155.80,205.40 L155.90,203.33 L156.00,201.26 L156.10,203.21 L156.20,205.15 L156.30,207.08 L156.40,209.01 L156.50,210.92 L156.60,212.83 L156.70,214.73 L156.80,216.62 L156.90,218.50 L157.00,220.38 L157.10,222.25 L157.20,224.11 L157.30,225.96 L157.40,226.63 L157.50,224.58 L157.60,222.53 L157.70,220.49 L157.80,218.45 L157.90,216.42 L158.00,214.41 L158.10,212.39 L158.20,210.39 L158.30,208.39 L158.40,206.40 L158.50,204.42 L158.60,202.45 L158.70,200.49 L158.80,200.80 L158.90,202.63 L159.00,204.45 L159.10,206.26 L159.20,208.07 L159.30,209.86 L159.40,211.65 L159.50,213.42 L159.60,215.19 L159.70,216.95 L159.80,218.70 L159.90,220.44 L160.00,222.17 L160.10,223.90 L160.20,222.32 L160.30,220.38 L160.40,218.44 L160.50,216.52 L160.60,214.59 L160.70,212.68 L160.80,210.78 L160.90,208.88 L161.00,206.99 L161.10,205.11 L161.20,203.24 L161.30,201.37 L161.40,199.51 L161.50,198.38 L161.60,200.09 L161.70,201.80 L161.80,203.50 L161.90,205.19 L162.00,206.87 L162.10,208.54 L162.20,210.20 L162.30,211.86 L162.40,213.50 L162.50,215.13 L162.60,216.76 L162.70,218.37 L162.80,219.97 L162.90,219.85 L163.00,218.01 L163.10,216.17 L163.20,214.35 L163.30,212.53 L163.40,210.72 L163.50,208.93 L163.60,207.14 L163.70,205.36 L163.80,203.59 L163.90,201.82 L164.00,200.07 L164.10,198.33 L164.20,196.59 L164.30,197.51 L164.40,199.09 L164.50,200.65 L164.60,202.21 L164.70,203.76 L164.80,205.29 L164.90,206.82 L165.00,208.34 L165.10,209.85 L165.20,211.35 L165.30,212.84 L165.40,214.32 L165.50,215.79 L165.60,216.93 L165.70,215.20 L165.80,213.48 L165.90,211.77 L166.00,210.06 L166.10,208.36 L166.20,206.67 L166.30,204.99 L166.40,203.32 L166.50,201.65 L166.60,199.99 L166.70,198.34 L166.80,196.70 L166.90,195.06 L167.00,194.66 L167.10,196.11 L167.20,197.54 L167.30,198.97 L167.40,200.39 L167.50,201.80 L167.60,203.21 L167.70,204.60 L167.80,205.99 L167.90,207.37 L168.00,208.75 L168.10,210.12 L168.20,211.48 L168.30,212.83 L168.40,212.10 L168.50,210.47 L168.60,208.84 L168.70,207.23 L168.80,205.61 L168.90,204.01 L169.00,202.40 L169.10,200.80 L169.20,199.21 L169.30,197.62 L169.40,196.04 L169.50,194.46 L169.60,192.88 L169.70,191.31 L169.80,192.65 L169.90,193.98 L170.00,195.31 L170.10,196.64 L170.20,197.96 L170.30,199.27 L170.40,200.58 L170.50,201.89 L170.60,203.19 L170.70,204.48 L170.80,205.77 L170.90,207.05 L171.00,208.33 L171.10,208.75 L171.20,207.18 L171.30,205.61 L171.40,204.04 L171.50,202.47 L171.60,200.91 L171.70,199.36 L171.80,197.80 L171.90,196.25 L172.00,194.71 L172.10,193.16 L172.20,191.62 L172.30,190.09 L172.40,188.55 L172.50,188.70 L172.60,189.96 L172.70,191.21 L172.80,192.47 L172.90,193.71 L173.00,194.95 L173.10,196.19 L173.20,197.42 L173.30,198.65 L173.40,199.87 L173.50,201.09 L173.60,202.31 L173.70,203.52 L173.80,204.73 L173.90,203.46 L174.00,201.93 L174.10,200.40 L174.20,198.87 L174.30,197.34 L174.40,195.81 L174.50,194.29 L174.60,192.77 L174.70,191.26 L174.80,189.74 L174.90,188.23 L175.00,186.72 L175.10,185.21 L175.20,184.25 L175.30,185.44 L175.40,186.62 L175.50,187.80 L175.60,188.97 L175.70,190.13 L175.80,191.29 L175.90,192.45 L176.00,193.60 L176.10,194.74 L176.20,195.88 L176.30,197.01 L176.40,198.14 L176.50,199.26 L176.60,199.06 L176.70,197.55 L176.80,196.05 L176.90,194.54 L177.00,193.05 L177.10,191.55 L177.20,190.06 L177.30,188.58 L177.40,187.10 L177.50,185.62 L177.60,184.14 L177.70,182.67 L177.80,181.20 L177.90,179.74 L178.00,180.33 L178.10,181.42 L178.20,182.52 L178.30,183.60 L178.40,184.69 L178.50,185.76 L178.60,186.83 L178.70,187.90 L178.80,188.96 L178.90,190.02 L179.00,191.07 L179.10,192.12 L179.20,193.16 L179.30,193.95 L179.40,192.47 L179.50,191.00 L179.60,189.54 L179.70,188.07 L179.80,186.61 L179.90,185.16 L180.00,183.70 L180.10,182.25 L180.20,180.80 L180.30,179.36 L180.40,177.91 L180.50,176.47 L180.60,175.03 L180.70,174.58 L180.80,175.60 L180.90,176.61 L181.00,177.62 L181.10,178.63 L181.20,179.63 L181.30,180.62 L181.40,181.61 L181.50,182.60 L181.60,183.58 L181.70,184.56 L181.80,185.53 L181.90,186.50 L182.00,187.46 L182.10,186.74 L182.20,185.29 L182.30,183.85 L182.40,182.41 L182.50,180.97 L182.60,179.53 L182.70,178.09 L182.80,176.66 L182.90,175.23 L183.00,173.80 L183.10,172.37 L183.20,170.95 L183.30,169.52 L183.40,168.10 L183.50,169.05 L183.60,169.99 L183.70,170.92 L183.80,171.86 L183.90,172.78 L184.00,173.71 L184.10,174.63 L184.20,175.55 L184.30,176.46 L184.40,177.37 L184.50,178.27 L184.60,179.17 L184.70,180.07 L184.80,180.26 L184.90,178.83 L185.00,177.39 L185.10,175.96 L185.20,174.53 L185.30,173.10 L185.40,171.67 L185.50,170.25 L185.60,168.82 L185.70,167.40 L185.80,165.98 L185.90,164.56 L186.00,163.14 L186.10,161.72 L186.20,161.68 L186.30,162.55 L186.40,163.41 L186.50,164.28 L186.60,165.14 L186.70,165.99 L186.80,166.85 L186.90,167.69 L187.00,168.54 L187.10,169.38 L187.20,170.22 L187.30,171.05 L187.40,171.88 L187.50,172.70 L187.60,171.50 L187.70,170.06 L187.80,168.63 L187.90,167.20 L188.00,165.77 L188.10,164.34 L188.20,162.92 L188.30,161.49 L188.40,160.07 L188.50,158.64 L188.60,157.22 L188.70,155.80 L188.80,154.38 L188.90,153.41 L189.00,154.21 L189.10,155.01 L189.20,155.80 L189.30,156.59 L189.40,157.38 L189.50,158.16 L189.60,158.94 L189.70,159.71 L189.80,160.48 L189.90,161.25 L190.00,162.01 L190.10,162.77 L190.20,163.52 L190.30,163.18 L190.40,161.74 L190.50,160.31 L190.60,158.87 L190.70,157.44 L190.80,156.01 L190.90,154.58 L191.00,153.15 L191.10,151.72 L191.20,150.29 L191.30,148.87 L191.40,147.44 L191.50,146.02 L191.60,144.60 L191.70,144.90 L191.80,145.62 L191.90,146.34 L192.00,147.06 L192.10,147.77 L192.20,148.47 L192.30,149.18 L192.40,149.87 L192.50,150.57 L192.60,151.26 L192.70,151.94 L192.80,152.62 L192.90,153.29 L193.00,153.75 L193.10,152.31 L193.20,150.87 L193.30,149.43 L193.40,148.00 L193.50,146.56 L193.60,145.13 L193.70,143.70 L193.80,142.27 L193.90,140.84 L194.00,139.41 L194.10,137.99 L194.20,136.57 L194.30,135.15 L194.40,134.55 L194.50,135.19 L194.60,135.83 L194.70,136.46 L194.80,137.09 L194.90,137.71 L195.00,138.33 L195.10,138.94 L195.20,139.55 L195.30,140.15 L195.40,140.75 L195.50,141.34 L195.60,141.93 L195.70,142.51 L195.80,141.67 L195.90,140.23 L196.00,138.80 L196.10,137.36 L196.20,135.93 L196.30,134.50 L196.40,133.07 L196.50,131.64 L196.60,130.22 L196.70,128.79 L196.80,127.37 L196.90,125.95 L197.00,124.53 L197.10,123.12 L197.20,123.67 L197.30,124.22 L197.40,124.76 L197.50,125.30 L197.60,125.83 L197.70,126.36 L197.80,126.88 L197.90,127.40 L198.00,127.91 L198.10,128.42 L198.20,128.92 L198.30,129.42 L198.40,129.91 L198.50,129.83 L198.60,128.39 L198.70,126.95 L198.80,125.52 L198.90,124.09 L199.00,122.66 L199.10,121.24 L199.20,119.81 L199.30,118.39 L199.40,116.97 L199.50,115.55 L199.60,114.13 L199.70,112.72 L199.80,111.30 L199.90,111.02 L200.00,111.48 L200.10,111.94 L200.20,112.39 L200.30,112.83 L200.40,113.27 L200.50,113.71 L200.60,114.14 L200.70,114.56 L200.80,114.98 L200.90,115.39 L201.00,115.80 L201.10,116.20 L201.20,116.60 L201.30,115.36 L201.40,113.93 L201.50,112.51 L201.60,111.08 L201.70,109.67 L201.80,108.25 L201.90,106.84 L202.00,105.43 L202.10,104.02 L202.20,102.61 L202.30,101.21 L202.40,99.81 L202.50,98.42 L202.60,97.38 L202.70,97.75 L202.80,98.12 L202.90,98.48 L203.00,98.84 L203.10,99.19 L203.20,99.54 L203.30,99.88 L203.40,100.21 L203.50,100.54 L203.60,100.86 L203.70,101.18 L203.80,101.49 L203.90,101.80 L204.00,101.25 L204.10,99.84 L204.20,98.45 L204.30,97.05 L204.40,95.66 L204.50,94.28 L204.60,92.90 L204.70,91.52 L204.80,90.15 L204.90,88.78 L205.00,87.42 L205.10,86.06 L205.20,84.71 L205.30,83.36 L205.40,83.32 L205.50,83.60 L205.60,83.88 L205.70,84.15 L205.80,84.41 L205.90,84.66 L206.00,84.91 L206.10,85.16 L206.20,85.39 L206.30,85.62 L206.40,85.85 L206.50,86.06 L206.60,86.27 L206.70,86.32 L206.80,84.98 L206.90,83.64 L207.00,82.30 L207.10,80.98 L207.20,79.65 L207.30,78.34 L207.40,77.03 L207.50,75.73 L207.60,74.44 L207.70,73.16 L207.80,71.88 L207.90,70.61 L208.00,69.34 L208.10,68.67 L208.20,68.87 L208.30,69.06 L208.40,69.24 L208.50,69.42 L208.60,69.58 L208.70,69.74 L208.80,69.88 L208.90,70.01 L209.00,70.13 L209.10,70.24 L209.20,70.33 L209.30,70.40 L209.40,70.47 L209.50,69.61 L209.60,68.39 L209.70,67.18 L209.80,65.99 L209.90,64.82 L210.00,63.66 L210.10,62.53 L210.20,61.41 L210.30,60.31 L210.40,59.23 L210.50,58.17 L210.60,57.13 L210.70,56.11 L210.80,55.11 L210.90,55.16 L211.00,55.20 L211.10,55.22 L211.20,55.22 L211.30,55.21 L211.40,55.18 L211.50,55.13 L211.60,55.07 L211.70,54.99 L211.80,54.90 L211.90,54.79 L212.00,54.67 L212.10,54.53 L212.20,54.14 L212.30,53.19 L212.40,52.27 L212.50,51.36 L212.60,50.47 L212.70,49.60 L212.80,48.74 L212.90,47.91 L213.00,47.08 L213.10,46.28 L213.20,45.49 L213.30,44.71 L213.40,43.95 L213.50,43.19 L213.60,42.82 L213.70,42.69 L213.80,42.54 L213.90,42.38 L214.00,42.20 L214.10,41.98 L214.20,41.72 L214.30,41.40 L214.40,41.00 L214.50,40.51 L214.60,39.92 L214.70,39.25 L214.80,38.54 L214.90,37.85 L215.00,36.77 L215.10,35.80 L215.20,35.04 L215.30,34.52 L215.40,34.26 L215.50,34.23 L215.60,34.44 L215.70,34.89 L215.80,35.63 L215.90,36.71 L216.00,38.18 L216.10,40.05 L216.20,42.25 L216.30,44.69 L216.40,47.36 L216.50,49.57 L216.60,51.00 L216.70,51.42 L216.80,50.72 L216.90,48.99 L217.00,46.45 L217.10,43.39 L217.20,40.10 L217.30,36.82 L217.40,33.68 L217.50,30.71 L217.60,27.92 L217.70,25.09 L217.80,22.27 L217.90,19.74 L218.00,17.63 L218.10,16.10 L218.20,15.27 L218.30,15.16 L218.40,15.71 L218.50,16.76 L218.60,18.09 L218.70,19.49 L218.80,20.77 L218.90,21.80 L219.00,22.54 L219.10,23.23 L219.20,23.73 L219.30,24.03 L219.40,24.19 L219.50,24.26 L219.60,24.28 L219.70,24.27 L219.80,24.23 L219.90,24.17 L220.00,24.08 L220.10,23.93 L220.20,23.68 L220.30,23.28 L220.40,22.64 L220.50,21.49 L220.60,20.02 L220.70,18.22 L220.80,16.16 L220.90,13.96 L221.00,11.82 L221.10,10.00 L221.20,8.71 L221.30,8.13 L221.40,8.31 L221.50,9.21 L221.60,10.64 L221.70,12.38 L221.80,14.28 L221.90,16.18 L222.00,17.81 L222.10,19.11 L222.20,20.09 L222.30,20.79 L222.40,21.28 L222.50,22.20 L222.60,22.45 L222.70,22.48 L222.80,22.40 L222.90,22.31 L223.00,22.20 L223.10,22.06 L223.20,21.87 L223.30,21.59 L223.40,21.18 L223.50,20.57 L223.60,19.70 L223.70,18.54 L223.80,17.08 L223.90,15.36 L224.00,13.52 L224.10,11.98 L224.20,10.73 L224.30,9.97 L224.40,9.86 L224.50,10.47 L224.60,11.74 L224.70,13.54 L224.80,15.68 L224.90,17.96 L225.00,20.25 L225.10,22.49 L225.20,24.66 L225.30,26.83 L225.40,28.96 L225.50,30.95 L225.60,32.93 L225.70,34.77 L225.80,36.29 L225.90,37.33 L226.00,37.75 L226.10,37.50 L226.20,36.63 L226.30,35.27 L226.40,33.60 L226.50,31.82 L226.60,30.06 L226.70,28.41 L226.80,27.06 L226.90,25.97 L227.00,24.99 L227.10,24.14 L227.20,23.47 L227.30,23.03 L227.40,22.90 L227.50,23.14 L227.60,23.77 L227.70,24.76 L227.80,26.02 L227.90,27.46 L228.00,28.99 L228.10,30.54 L228.20,31.79 L228.30,33.04 L228.40,34.35 L228.50,35.80 L228.60,37.42 L228.70,39.19 L228.80,41.03 L228.90,42.79 L229.00,44.30 L229.10,45.37 L229.20,45.87 L229.30,45.76 L229.40,45.09 L229.50,44.06 L229.60,43.09 L229.70,42.08 L229.80,41.20 L229.90,40.54 L230.00,40.17 L230.10,40.06 L230.20,40.20 L230.30,40.52 L230.40,40.97 L230.50,41.50 L230.60,42.10 L230.70,42.73 L230.80,43.38 L230.90,43.84 L231.00,44.08 L231.10,44.33 L231.20,44.58 L231.30,44.84 L231.40,45.12 L231.50,45.42 L231.60,45.75 L231.70,46.14 L231.80,46.60 L231.90,47.13 L232.00,47.75 L232.10,48.44 L232.20,49.16 L232.30,50.26 L232.40,51.39 L232.50,52.39 L232.60,53.23 L232.70,53.88 L232.80,54.36 L232.90,54.71 L233.00,55.00 L233.10,55.28 L233.20,55.61 L233.30,56.01 L233.40,56.50 L233.50,57.08 L233.60,57.69 L233.70,57.85 L233.80,58.04 L233.90,58.25 L234.00,58.48 L234.10,58.71 L234.20,58.94 L234.30,59.17 L234.40,59.39 L234.50,59.59 L234.60,59.79 L234.70,59.98 L234.80,60.14 L234.90,60.30 L235.00,60.71 L235.10,61.55 L235.20,62.41 L235.30,63.29 L235.40,64.18 L235.50,65.10 L235.60,66.04 L235.70,67.00 L235.80,67.98 L235.90,68.99 L236.00,70.03 L236.10,71.09 L236.20,72.17 L236.30,73.29 L236.40,73.72 L236.50,73.83 L236.60,73.91 L236.70,73.97 L236.80,74.00 L236.90,74.01 L237.00,73.99 L237.10,73.95 L237.20,73.88 L237.30,73.78 L237.40,73.66 L237.50,73.51 L237.60,73.34 L237.70,73.14 L237.80,74.30 L237.90,75.48 L238.00,76.69 L238.10,77.92 L238.20,79.18 L238.30,80.46 L238.40,81.76 L238.50,83.08 L238.60,84.43 L238.70,85.79 L238.80,87.17 L238.90,88.57 L239.00,89.98 L239.10,90.91 L239.20,90.68 L239.30,90.43 L239.40,90.16 L239.50,89.88 L239.60,89.58 L239.70,89.27 L239.80,88.95 L239.90,88.62 L240.00,88.29 L240.10,87.94 L240.20,87.60 L240.30,87.25 L240.40,86.89 L240.50,87.59 L240.60,89.01 L240.70,90.43 L240.80,91.85 L240.90,93.28 L241.00,94.71 L241.10,96.15 L241.20,97.59 L241.30,99.04 L241.40,100.49 L241.50,101.94 L241.60,103.40 L241.70,104.86 L241.80,106.32 L241.90,106.13 L242.00,105.74 L242.10,105.35 L242.20,104.95 L242.30,104.55 L242.40,104.14 L242.50,103.73 L242.60,103.31 L242.70,102.89 L242.80,102.46 L242.90,102.02 L243.00,101.58 L243.10,101.14 L243.20,101.07 L243.30,102.52 L243.40,103.97 L243.50,105.43 L243.60,106.89 L243.70,108.35 L243.80,109.82 L243.90,111.28 L244.00,112.75 L244.10,114.22 L244.20,115.70 L244.30,117.17 L244.40,118.65 L244.50,120.13 L244.60,120.63 L244.70,120.16 L244.80,119.67 L244.90,119.19 L245.00,118.70 L245.10,118.21 L245.20,117.71 L245.30,117.20 L245.40,116.70 L245.50,116.18 L245.60,115.67 L245.70,115.15 L245.80,114.62 L245.90,114.09 L246.00,115.16 L246.10,116.62 L246.20,118.08 L246.30,119.54 L246.40,121.01 L246.50,122.47 L246.60,123.94 L246.70,125.40 L246.80,126.87 L246.90,128.34 L247.00,129.80 L247.10,131.27 L247.20,132.74 L247.30,134.01 L247.40,133.45 L247.50,132.89 L247.60,132.33 L247.70,131.77 L247.80,131.20 L247.90,130.63 L248.00,130.05 L248.10,129.48 L248.20,128.90 L248.30,128.32 L248.40,127.73 L248.50,127.14 L248.60,126.55 L248.70,126.78 L248.80,128.22 L248.90,129.67 L249.00,131.11 L249.10,132.55 L249.20,133.99 L249.30,135.44 L249.40,136.88 L249.50,138.31 L249.60,139.75 L249.70,141.19 L249.80,142.62 L249.90,144.05 L250.00,145.48" stroke="#ffa500" stroke-width="1.12"/>
<path d="M250.00,145.48 L250.10,145.48 L250.20,144.87 L250.30,144.25 L250.40,143.63 L250.50,143.01 L250.60,142.39 L250.70,141.76 L250.80,141.14 L250.90,140.51 L251.00,139.88 L251.10,139.25 L251.20,138.62 L251.30,137.98 L251.40,137.35 L251.50,138.75 L251.60,140.16 L251.70,141.56 L251.80,142.96 L251.90,144.37 L252.00,145.76 L252.10,147.16 L252.20,148.56 L252.30,149.95 L252.40,151.34 L252.50,152.74 L252.60,154.13 L252.70,155.51 L252.80,156.29 L252.90,155.63 L253.00,154.97 L253.10,154.31 L253.20,153.64 L253.30,152.98 L253.40,152.31 L253.50,151.64 L253.60,150.98 L253.70,150.30 L253.80,149.63 L253.90,148.96 L254.00,148.28 L254.10,147.61 L254.20,148.15 L254.30,149.52 L254.40,150.88 L254.50,152.24 L254.60,153.60 L254.70,154.96 L254.80,156.32 L254.90,157.67 L255.00,159.03 L255.10,160.39 L255.20,161.75 L255.30,163.11 L255.40,164.48 L255.50,165.84 L255.60,165.36 L255.70,164.66 L255.80,163.96 L255.90,163.26 L256.00,162.56 L256.10,161.85 L256.20,161.14 L256.30,160.43 L256.40,159.71 L256.50,158.99 L256.60,158.26 L256.70,157.54 L256.80,156.81 L256.90,156.49 L257.00,157.83 L257.10,159.18 L257.20,160.53 L257.30,161.87 L257.40,163.22 L257.50,164.57 L257.60,165.92 L257.70,167.27 L257.80,168.62 L257.90,169.97 L258.00,171.32 L258.10,172.68 L258.20,174.03 L258.30,174.33 L258.40,173.57 L258.50,172.82 L258.60,172.05 L258.70,171.29 L258.80,170.52 L258.90,169.75 L259.00,168.97 L259.10,168.19 L259.20,167.41 L259.30,166.62 L259.40,165.84 L259.50,165.05 L259.60,164.25 L259.70,165.16 L259.80,166.50 L259.90,167.84 L260.00,169.18 L260.10,170.52 L260.20,171.86 L260.30,173.20 L260.40,174.54 L260.50,175.89 L260.60,177.23 L260.70,178.58 L260.80,179.92 L260.90,181.27 L261.00,182.40 L261.10,181.58 L261.20,180.77 L261.30,179.95 L261.40,179.12 L261.50,178.30 L261.60,177.47 L261.70,176.63 L261.80,175.80 L261.90,174.96 L262.00,174.12 L262.10,173.27 L262.20,172.42 L262.30,171.57 L262.40,171.59 L262.50,172.93 L262.60,174.26 L262.70,175.59 L262.80,176.93 L262.90,178.27 L263.00,179.61 L263.10,180.94 L263.20,182.28 L263.30,183.62 L263.40,184.97 L263.50,186.31 L263.60,187.65 L263.70,189.00 L263.80,188.79 L263.90,187.92 L264.00,187.04 L264.10,186.17 L264.20,185.28 L264.30,184.40 L264.40,183.51 L264.50,182.62 L264.60,181.73 L264.70,180.84 L264.80,179.94 L264.90,179.04 L265.00,178.13 L265.10,177.22 L265.20,178.56 L265.30,179.89 L265.40,181.22 L265.50,182.56 L265.60,183.89 L265.70,185.23 L265.80,186.57 L265.90,187.91 L266.00,189.26 L266.10,190.60 L266.20,191.95 L266.30,193.30 L266.40,194.65 L266.50,195.32 L266.60,194.39 L266.70,193.47 L266.80,192.53 L266.90,191.60 L267.00,190.66 L267.10,189.71 L267.20,188.76 L267.30,187.81 L267.40,186.85 L267.50,185.89 L267.60,184.92 L267.70,183.95 L267.80,182.97 L267.90,183.39 L268.00,184.73 L268.10,186.08 L268.20,187.43 L268.30,188.79 L268.40,190.15 L268.50,191.51 L268.60,192.88 L268.70,194.25 L268.80,195.62 L268.90,197.00 L269.00,198.38 L269.10,199.76 L269.20,201.15 L269.30,200.39 L269.40,199.39 L269.50,198.39 L269.60,197.38 L269.70,196.36 L269.80,195.34 L269.90,194.31 L270.00,193.28 L270.10,192.23 L270.20,191.19 L270.30,190.13 L270.40,189.08 L270.50,188.02 L270.60,187.44 L270.70,188.82 L270.80,190.20 L270.90,191.58 L271.00,192.97 L271.10,194.35 L271.20,195.74 L271.30,197.14 L271.40,198.54 L271.50,199.93 L271.60,201.34 L271.70,202.74 L271.80,204.15 L271.90,205.56 L272.00,205.73 L272.10,204.65 L272.20,203.57 L272.30,202.48 L272.40,201.39 L272.50,200.29 L272.60,199.19 L272.70,198.08 L272.80,196.97 L272.90,195.85 L273.00,194.73 L273.10,193.61 L273.20,192.48 L273.30,191.34 L273.40,192.24 L273.50,193.65 L273.60,195.07 L273.70,196.48 L273.80,197.90 L273.90,199.33 L274.00,200.76 L274.10,202.19 L274.20,203.62 L274.30,205.06 L274.40,206.51 L274.50,207.95 L274.60,209.40 L274.70,210.59 L274.80,209.44 L274.90,208.29 L275.00,207.13 L275.10,205.97 L275.20,204.80 L275.30,203.63 L275.40,202.45 L275.50,201.27 L275.60,200.08 L275.70,198.89 L275.80,197.69 L275.90,196.49 L276.00,195.28 L276.10,195.14 L276.20,196.59 L276.30,198.04 L276.40,199.50 L276.50,200.96 L276.60,202.42 L276.70,203.89 L276.80,205.36 L276.90,206.84 L277.00,208.32 L277.10,209.80 L277.20,211.29 L277.30,212.77 L277.40,214.27 L277.50,213.86 L277.60,212.64 L277.70,211.41 L277.80,210.18 L277.90,208.94 L278.00,207.70 L278.10,206.45 L278.20,205.20 L278.30,203.94 L278.40,202.68 L278.50,201.42 L278.60,200.15 L278.70,198.88 L278.80,197.61 L278.90,199.10 L279.00,200.59 L279.10,202.09 L279.20,203.59 L279.30,205.09 L279.40,206.60 L279.50,208.11 L279.60,209.62 L279.70,211.13 L279.80,212.65 L279.90,214.18 L280.00,215.70 L280.10,217.23 L280.20,217.92 L280.30,216.63 L280.40,215.34 L280.50,214.04 L280.60,212.74 L280.70,211.44 L280.80,210.13 L280.90,208.82 L281.00,207.50 L281.10,206.18 L281.20,204.85 L281.30,203.52 L281.40,202.19 L281.50,200.85 L281.60,201.23 L281.70,202.76 L281.80,204.30 L281.90,205.83 L282.00,207.38 L282.10,208.92 L282.20,210.47 L282.30,212.02 L282.40,213.58 L282.50,215.14 L282.60,216.70 L282.70,218.27 L282.80,219.84 L282.90,221.42 L283.00,220.36 L283.10,219.00 L283.20,217.64 L283.30,216.28 L283.40,214.91 L283.50,213.54 L283.60,212.16 L283.70,210.78 L283.80,209.39 L283.90,208.00 L284.00,206.61 L284.10,205.21 L284.20,203.80 L284.30,202.99 L284.40,204.56 L284.50,206.14 L284.60,207.72 L284.70,209.31 L284.80,210.90 L284.90,212.49 L285.00,214.09 L285.10,215.69 L285.20,217.30 L285.30,218.91 L285.40,220.52 L285.50,222.14 L285.60,223.76 L285.70,223.87 L285.80,222.45 L285.90,221.02 L286.00,219.59 L286.10,218.16 L286.20,216.72 L286.30,215.27 L286.40,213.83 L286.50,212.37 L286.60,210.92 L286.70,209.45 L286.80,207.99 L286.90,206.52 L287.00,205.04 L287.10,206.04 L287.20,207.67 L287.30,209.30 L287.40,210.93 L287.50,212.57 L287.60,214.21 L287.70,215.86 L287.80,217.51 L287.90,219.16 L288.00,220.82 L288.10,222.48 L288.20,224.14 L288.30,225.81 L288.40,227.17 L288.50,225.68 L288.60,224.19 L288.70,222.70 L288.80,221.20 L288.90,219.70 L289.00,218.19 L289.10,216.68 L289.20,215.16 L289.30,213.64 L289.40,212.11 L289.50,210.58 L289.60,209.05 L289.70,207.51 L289.80,207.25 L289.90,208.93 L290.00,210.60 L290.10,212.29 L290.20,213.97 L290.30,215.66 L290.40,217.35 L290.50,219.05 L290.60,220.75 L290.70,222.45 L290.80,224.16 L290.90,225.87 L291.00,227.59 L291.10,229.31 L291.20,228.74 L291.30,227.19 L291.40,225.63 L291.50,224.07 L291.60,222.50 L291.70,220.93 L291.80,219.36 L291.90,217.78 L292.00,216.20 L292.10,214.61 L292.20,213.02 L292.30,211.42 L292.40,209.82 L292.50,208.22 L292.60,209.94 L292.70,211.66 L292.80,213.39 L292.90,215.12 L293.00,216.86 L293.10,218.60 L293.20,220.34 L293.30,222.09 L293.40,223.84 L293.50,225.60 L293.60,227.36 L293.70,229.12 L293.80,230.89 L293.90,231.64 L294.00,230.03 L294.10,228.41 L294.20,226.79 L294.30,225.16 L294.40,223.53 L294.50,221.90 L294.60,220.26 L294.70,218.61 L294.80,216.97 L294.90,215.31 L295.00,213.66 L295.10,212.00 L295.20,210.33 L295.30,210.73 L295.40,212.50 L295.50,214.27 L295.60,216.05 L295.70,217.84 L295.80,219.63 L295.90,221.42 L296.00,223.21 L296.10,225.01 L296.20,226.82 L296.30,228.62 L296.40,230.43 L296.50,232.25 L296.60,234.07 L296.70,232.74 L296.80,231.07 L296.90,229.38 L297.00,227.70 L297.10,226.01 L297.20,224.31 L297.30,222.61 L297.40,220.91 L297.50,219.20 L297.60,217.49 L297.70,215.77 L297.80,214.05 L297.90,212.33 L298.00,211.31 L298.10,213.13 L298.20,214.95 L298.30,216.78 L298.40,218.61 L298.50,220.45 L298.60,222.29 L298.70,224.14 L298.80,225.98 L298.90,227.84 L299.00,229.69 L299.10,231.55 L299.20,233.42 L299.30,235.28 L299.40,235.35 L299.50,233.61 L299.60,231.87 L299.70,230.13 L299.80,228.38 L299.90,226.62 L300.00,224.86 L300.10,223.10 L300.20,221.33 L300.30,219.56 L300.40,217.79 L300.50,216.01 L300.60,214.22 L300.70,212.43 L300.80,213.57 L300.90,215.45 L301.00,217.32 L301.10,219.21 L301.20,221.09 L301.30,222.98 L301.40,224.87 L301.50,226.77 L301.60,228.67 L301.70,230.58 L301.80,232.49 L301.90,234.40 L302.00,236.32 L302.10,237.87 L302.20,236.07 L302.30,234.27 L302.40,232.47 L302.50,230.66 L302.60,228.84 L302.70,227.03 L302.80,225.20 L302.90,223.38 L303.00,221.55 L303.10,219.71 L303.20,217.88 L303.30,216.03 L303.40,214.19 L303.50,213.84 L303.60,215.77 L303.70,217.70 L303.80,219.63 L303.90,221.56 L304.00,223.50 L304.10,225.45 L304.20,227.39 L304.30,229.34 L304.40,231.30 L304.50,233.26 L304.60,235.22 L304.70,237.19 L304.80,239.16 L304.90,238.45 L305.00,236.60 L305.10,234.73 L305.20,232.86 L305.30,230.99 L305.40,229.12 L305.50,227.24 L305.60,225.35 L305.70,223.46 L305.80,221.57 L305.90,219.67 L306.00,217.77 L306.10,215.87 L306.20,213.96 L306.30,215.93 L306.40,217.91 L306.50,219.89 L306.60,221.88 L306.70,223.87 L306.80,225.86 L306.90,227.86 L307.00,229.86 L307.10,231.87 L307.20,233.88 L307.30,235.89 L307.40,237.91 L307.50,239.93 L307.60,240.78 L307.70,238.86 L307.80,236.94 L307.90,235.01 L308.00,233.08 L308.10,231.15 L308.20,229.21 L308.30,227.27 L308.40,225.32 L308.50,223.37 L308.60,221.41 L308.70,219.45 L308.80,217.49 L308.90,215.52 L309.00,215.94 L309.10,217.97 L309.20,220.01 L309.30,222.05 L309.40,224.09 L309.50,226.13 L309.60,228.18 L309.70,230.24 L309.80,232.29 L309.90,234.36 L310.00,236.42 L310.10,238.49 L310.20,240.57 L310.30,242.64 L310.40,241.07 L310.50,239.09 L310.60,237.11 L310.70,235.12 L310.80,233.13 L310.90,231.13 L311.00,229.13 L311.10,227.12 L311.20,225.11 L311.30,223.10 L311.40,221.08 L311.50,219.06 L311.60,217.03 L311.70,215.82 L311.80,217.90 L311.90,219.99 L312.00,222.08 L312.10,224.17 L312.20,226.27 L312.30,228.37 L312.40,230.48 L312.50,232.59 L312.60,234.70 L312.70,236.82 L312.80,238.94 L312.90,241.07 L313.00,243.20 L313.10,243.25 L313.20,241.21 L313.30,239.17 L313.40,237.12 L313.50,235.07 L313.60,233.01 L313.70,230.95 L313.80,228.89 L313.90,226.82 L314.00,224.75 L314.10,222.67 L314.20,220.59 L314.30,218.50 L314.40,216.41 L314.50,217.70 L314.60,219.84 L314.70,221.98 L314.80,224.13 L314.90,226.28 L315.00,228.44 L315.10,230.60 L315.20,232.76 L315.30,234.93 L315.40,237.10 L315.50,239.28 L315.60,241.46 L315.70,243.64 L315.80,245.40 L315.90,243.30 L316.00,241.20 L316.10,239.09 L316.20,236.98 L316.30,234.87 L316.40,232.75 L316.50,230.63 L316.60,228.50 L316.70,226.37 L316.80,224.23 L316.90,222.09 L317.00,219.94 L317.10,217.79 L317.20,217.38 L317.30,219.57 L317.40,221.77 L317.50,223.97 L317.60,226.17 L317.70,228.38 L317.80,230.60 L317.90,232.81 L318.00,235.04 L318.10,237.26 L318.20,239.49 L318.30,241.73 L318.40,243.97 L318.50,246.21 L318.60,245.37 L318.70,243.21 L318.80,241.05 L318.90,238.88 L319.00,236.70 L319.10,234.52 L319.20,232.34 L319.30,230.15 L319.40,227.96 L319.50,225.76 L319.60,223.56 L319.70,221.36 L319.80,219.15 L319.90,216.93 L320.00,219.18 L320.10,221.43 L320.20,223.69 L320.30,225.95 L320.40,228.21 L320.50,230.48 L320.60,232.76 L320.70,235.03 L320.80,237.32 L320.90,239.60 L321.00,241.89 L321.10,244.19 L321.20,246.49 L321.30,247.20 L321.40,245.21 L321.50,242.99 L321.60,240.76 L321.70,238.52 L321.80,236.28 L321.90,234.04 L322.00,231.79 L322.10,229.54 L322.20,227.28 L322.30,225.02 L322.40,222.76 L322.50,220.49 L322.60,218.21 L322.70,218.68 L322.80,220.99 L322.90,223.30 L323.00,225.62 L323.10,227.94 L323.20,230.26 L323.30,232.59 L323.40,234.93 L323.50,237.27 L323.60,239.61 L323.70,241.96 L323.80,244.31 L323.90,246.66 L324.00,247.20 L324.10,247.20 L324.20,244.92 L324.30,242.63 L324.40,240.33 L324.50,238.03 L324.60,235.73 L324.70,233.42 L324.80,231.11 L324.90,228.79 L325.00,226.47 L325.10,224.14 L325.20,221.81 L325.30,219.47 L325.40,218.08 L325.50,220.44 L325.60,222.81 L325.70,225.18 L325.80,227.56 L325.90,229.94 L326.00,232.33 L326.10,234.72 L326.20,237.12 L326.30,239.52 L326.40,241.92 L326.50,244.33 L326.60,246.74 L326.70,247.20 L326.80,247.20 L326.90,246.85 L327.00,244.50 L327.10,242.15 L327.20,239.78 L327.30,237.42 L327.40,235.05 L327.50,232.68 L327.60,230.30 L327.70,227.91 L327.80,225.52 L327.90,223.13 L328.00,220.73 L328.10,218.33 L328.20,219.79 L328.30,222.22 L328.40,224.65 L328.50,227.08 L328.60,229.52 L328.70,231.97 L328.80,234.42 L328.90,236.87 L329.00,239.33 L329.10,241.79 L329.20,244.26 L329.30,246.73 L329.40,247.20 L329.50,247.20 L329.60,247.20 L329.70,246.38 L329.80,243.96 L329.90,241.54 L330.00,239.11 L330.10,236.67 L330.20,234.23 L330.30,231.79 L330.40,229.34 L330.50,226.89 L330.60,224.44 L330.70,221.98 L330.80,219.53 L330.90,219.04 L331.00,221.52 L331.10,223.99 L331.20,226.47 L331.30,228.96 L331.40,231.44 L331.50,233.93 L331.60,236.42 L331.70,238.91 L331.80,241.41 L331.90,243.91 L332.00,246.41 L332.10,247.20 L332.20,247.20 L332.30,247.20 L332.40,247.20 L332.50,245.52 L332.60,243.05 L332.70,240.57 L332.80,238.10 L332.90,235.62 L333.00,233.14 L333.10,230.66 L333.20,228.17 L333.30,225.68 L333.40,223.19 L333.50,220.70 L333.60,218.20 L333.70,220.71 L333.80,223.22 L333.90,225.74 L334.00,228.25 L334.10,230.77 L334.20,233.29 L334.30,235.82 L334.40,238.34 L334.50,240.87 L334.60,243.41 L334.70,245.94 L334.80,247.20 L334.90,247.20 L335.00,247.20 L335.10,247.20 L335.20,247.04 L335.30,244.54 L335.40,242.03 L335.50,239.52 L335.60,237.00 L335.70,234.49 L335.80,231.97 L335.90,229.45 L336.00,226.92 L336.10,224.39 L336.20,221.86 L336.30,219.33 L336.40,219.84 L336.50,222.39 L336.60,224.93 L336.70,227.48 L336.80,230.04 L336.90,232.59 L337.00,235.15 L337.10,237.71 L337.20,240.27 L337.30,242.84 L337.40,245.41 L337.50,247.20 L337.60,247.20 L337.70,247.20 L337.80,247.20 L337.90,247.20 L338.00,246.02 L338.10,243.47 L338.20,240.93 L338.30,238.38 L338.40,235.82 L338.50,233.27 L338.60,230.71 L338.70,228.15 L338.80,225.59 L338.90,223.02 L339.00,220.45 L339.10,218.91 L339.20,221.49 L339.30,224.07 L339.40,226.65 L339.50,229.24 L339.60,231.83 L339.70,234.42 L339.80,237.01 L339.90,239.61 L340.00,242.21 L340.10,244.81 L340.20,247.20 L340.30,247.20 L340.40,247.20 L340.50,247.20 L340.60,247.20 L340.70,247.20 L340.80,244.92 L340.90,242.33 L341.00,239.75 L341.10,237.16 L341.20,234.57 L341.30,231.97 L341.40,229.38 L341.50,226.78 L341.60,224.17 L341.70,221.57 L341.80,218.96 L341.90,220.53 L342.00,223.15 L342.10,225.76 L342.20,228.38 L342.30,231.01 L342.40,233.63 L342.50,236.26 L342.60,238.89 L342.70,241.52 L342.80,244.16 L342.90,246.80 L343.00,247.20 L343.10,247.20 L343.20,247.20 L343.30,247.20 L343.40,247.20 L343.50,246.36 L343.60,243.74 L343.70,241.12 L343.80,238.49 L343.90,235.86 L344.00,233.23 L344.10,230.60 L344.20,227.97 L344.30,225.33 L344.40,222.69 L344.50,220.04 L344.60,219.52 L344.70,222.16 L344.80,224.82 L344.90,227.47 L345.00,230.13 L345.10,232.79 L345.20,235.46 L345.30,238.13 L345.40,240.81 L345.50,243.49 L345.60,246.18 L345.70,247.20 L345.80,247.20 L345.90,247.20 L346.00,247.20 L346.10,247.20 L346.20,247.20 L346.30,245.27 L346.40,242.61 L346.50,239.94 L346.60,237.27 L346.70,234.60 L346.80,231.92 L346.90,229.23 L347.00,226.54 L347.10,223.85 L347.20,221.15 L347.30,218.45 L347.40,221.15 L347.50,223.86 L347.60,226.58 L347.70,229.30 L347.80,232.02 L347.90,234.75 L348.00,237.48 L348.10,240.22 L348.20,242.96 L348.30,245.71 L348.40,247.20 L348.50,247.20 L348.60,247.20 L348.70,247.20 L348.80,247.20 L348.90,247.20 L349.00,246.95 L349.10,244.23 L349.20,241.50 L349.30,238.77 L349.40,236.04 L349.50,233.30 L349.60,230.55 L349.70,227.80 L349.80,225.05 L349.90,222.29 L350.00,219.52 L350.10,220.08 L350.20,222.85 L350.30,225.62 L350.40,228.40 L350.50,231.18 L350.60,233.97 L350.70,236.76 L350.80,239.56 L350.90,242.36 L351.00,245.16 L351.10,247.20 L351.20,247.20 L351.30,247.20 L351.40,247.20 L351.50,247.20 L351.60,247.20 L351.70,247.20 L351.80,245.88 L351.90,243.09 L352.00,240.30 L352.10,237.50 L352.20,234.70 L352.30,231.90 L352.40,229.09 L352.50,226.27 L352.60,223.45 L352.70,220.63 L352.80,218.93 L352.90,221.76 L353.00,224.59 L353.10,227.43 L353.20,230.27 L353.30,233.12 L353.40,235.97 L353.50,238.82 L353.60,241.68 L353.70,244.54 L353.80,247.20 L353.90,247.20 L354.00,247.20 L354.10,247.20 L354.20,247.20 L354.30,247.20 L354.40,247.20 L354.50,247.20 L354.60,244.71 L354.70,241.85 L354.80,239.00 L354.90,236.14 L355.00,233.27 L355.10,230.40 L355.20,227.53 L355.30,224.65 L355.40,221.76 L355.50,218.88 L355.60,220.61 L355.70,223.50 L355.80,226.39 L355.90,229.29 L356.00,232.20 L356.10,235.11 L356.20,238.02 L356.30,240.94 L356.40,243.86 L356.50,246.78 L356.60,247.20 L356.70,247.20 L356.80,247.20 L356.90,247.20 L357.00,247.20 L357.10,247.20 L357.20,247.20 L357.30,246.35 L357.40,243.44 L357.50,240.52 L357.60,237.60 L357.70,234.67 L357.80,231.74 L357.90,228.81 L358.00,225.87 L358.10,222.93 L358.20,219.98 L358.30,219.39 L358.40,222.34 L358.50,225.29 L358.60,228.25 L358.70,231.21 L358.80,234.18 L358.90,237.15 L359.00,240.13 L359.10,243.11 L359.20,246.09 L359.30,247.20 L359.40,247.20 L359.50,247.20 L359.60,247.20 L359.70,247.20 L359.80,247.20 L359.90,247.20 L360.00,247.20 L360.10,245.05 L360.20,242.07 L360.30,239.09 L360.40,236.11 L360.50,233.12 L360.60,230.12 L360.70,227.13 L360.80,224.12 L360.90,221.12 L361.00,218.11 L361.10,221.11 L361.20,224.13 L361.30,227.14 L361.40,230.16 L361.50,233.19 L361.60,236.22 L361.70,239.25 L361.80,242.29 L361.90,245.33 L362.00,247.20 L362.10,247.20 L362.20,247.20 L362.30,247.20 L362.40,247.20 L362.50,247.20 L362.60,247.20 L362.70,247.20 L362.80,246.69 L362.90,243.65 L363.00,240.61 L363.10,237.57 L363.20,234.52 L363.30,231.47 L363.40,228.41 L363.50,225.35 L363.60,222.29 L363.70,219.22 L363.80,219.83 L363.90,222.90 L364.00,225.97 L364.10,229.05 L364.20,232.13 L364.30,235.22 L364.40,238.31 L364.50,241.40 L364.60,244.50 L364.70,247.20 L364.80,247.20 L364.90,247.20 L365.00,247.20 L365.10,247.20 L365.20,247.20 L365.30,247.20 L365.40,247.20 L365.50,247.20 L365.60,245.27 L365.70,242.17 L365.80,239.07 L365.90,235.96 L366.00,232.85 L366.10,229.73 L366.20,226.61 L366.30,223.49 L366.40,220.36 L366.50,218.48 L366.60,221.60 L366.70,224.74 L366.80,227.87 L366.90,231.01 L367.00,234.16 L367.10,237.31 L367.20,240.46 L367.30,243.62 L367.40,246.78 L367.50,247.20 L367.60,247.20 L367.70,247.20 L367.80,247.20 L367.90,247.20 L368.00,247.20 L368.10,247.20 L368.20,247.20 L368.30,246.91 L368.40,243.75 L368.50,240.59 L368.60,237.43 L368.70,234.26 L368.80,231.08 L368.90,227.90 L369.00,224.72 L369.10,221.53 L369.20,218.34 L369.30,220.25 L369.40,223.44 L369.50,226.63 L369.60,229.83 L369.70,233.04 L369.80,236.24 L369.90,239.45 L370.00,242.67 L370.10,245.89 L370.20,247.20 L370.30,247.20 L370.40,247.20 L370.50,247.20 L370.60,247.20 L370.70,247.20 L370.80,247.20 L370.90,247.20 L371.00,247.20 L371.10,245.38 L371.20,242.16 L371.30,238.93 L371.40,235.70 L371.50,232.47 L371.60,229.23 L371.70,225.99 L371.80,222.74 L371.90,219.49 L372.00,218.84 L372.10,222.09 L372.20,225.34 L372.30,228.59 L372.40,231.85 L372.50,235.12 L372.60,238.39 L372.70,241.66 L372.80,244.94 L372.90,247.20 L373.00,247.20 L373.10,247.20 L373.20,247.20 L373.30,247.20 L373.40,247.20 L373.50,247.20 L373.60,247.20 L373.70,247.20 L373.80,247.03 L373.90,243.75 L374.00,240.47 L374.10,237.18 L374.20,233.89 L374.30,230.59 L374.40,227.29 L374.50,223.99 L374.60,220.68 L374.70,217.37 L374.80,220.67 L374.90,223.98 L375.00,227.29 L375.10,230.61 L375.20,233.93 L375.30,237.26 L375.40,240.59 L375.50,243.93 L375.60,247.20 L375.70,247.20 L375.80,247.20 L375.90,247.20 L376.00,247.20 L376.10,247.20 L376.20,247.20 L376.30,247.20 L376.40,247.20 L376.50,247.20 L376.60,245.38 L376.70,242.04 L376.80,238.70 L376.90,235.35 L377.00,231.99 L377.10,228.63 L377.20,225.27 L377.30,221.90 L377.40,218.53 L377.50,219.20 L377.60,222.57 L377.70,225.94 L377.80,229.31 L377.90,232.69 L378.00,236.08 L378.10,239.46 L378.20,242.86 L378.30,246.25 L378.40,247.20 L378.50,247.20 L378.60,247.20 L378.70,247.20 L378.80,247.20 L378.90,247.20 L379.00,247.20 L379.10,247.20 L379.20,247.20 L379.30,247.05 L379.40,243.65 L379.50,240.25 L379.60,236.84 L379.70,233.43 L379.80,230.01 L379.90,226.59 L380.00,223.16 L380.10,219.73 L380.20,217.67 L380.30,221.09 L380.40,224.52 L380.50,227.95 L380.60,231.39 L380.70,234.83 L380.80,238.28 L380.90,241.73 L381.00,245.18 L381.10,247.20 L381.20,247.20 L381.30,247.20 L381.40,247.20 L381.50,247.20 L381.60,247.20 L381.70,247.20 L381.80,247.20 L381.90,247.20 L382.00,247.20 L382.10,245.30 L382.20,241.84 L382.30,238.37 L382.40,234.90 L382.50,231.42 L382.60,227.94 L382.70,224.46 L382.80,220.97 L382.90,217.48 L383.00,219.56 L383.10,223.05 L383.20,226.54 L383.30,230.04 L383.40,233.53 L383.50,237.04 L383.60,240.55 L383.70,244.06 L383.80,247.20 L383.90,247.20 L384.00,247.20 L384.10,247.20 L384.20,247.20 L384.30,247.20 L384.40,247.20 L384.50,247.20 L384.60,247.20 L384.70,247.20 L384.80,246.98 L384.90,243.46 L385.00,239.94 L385.10,236.41 L385.20,232.87 L385.30,229.33 L385.40,225.79 L385.50,222.25 L385.60,218.69 L385.70,217.98 L385.80,221.52 L385.90,225.07 L386.00,228.62 L386.10,232.18 L386.20,235.74 L386.30,239.31 L386.40,242.88 L386.50,246.45 L386.60,247.20 L386.70,247.20 L386.80,247.20 L386.90,247.20 L387.00,247.20 L387.10,247.20 L387.20,247.20 L387.30,247.20 L387.40,247.20 L387.50,247.20 L387.60,245.12 L387.70,241.54 L387.80,237.95 L387.90,234.36 L388.00,230.76 L388.10,227.16 L388.20,223.56 L388.30,219.95 L388.40,216.34 L388.50,219.94 L388.60,223.54 L388.70,227.15 L388.80,230.77 L388.90,234.39 L389.00,238.01 L389.10,241.64 L389.20,245.27 L389.30,247.20 L389.40,247.20 L389.50,247.20 L389.60,247.20 L389.70,247.20 L389.80,247.20 L389.90,247.20 L390.00,247.20 L390.10,247.20 L390.20,247.20 L390.30,246.83 L390.40,243.18 L390.50,239.54 L390.60,235.89 L390.70,232.23 L390.80,228.57 L390.90,224.91 L391.00,221.24 L391.10,217.57 L391.20,218.30 L391.30,221.96 L391.40,225.63 L391.50,229.30 L391.60,232.98 L391.70,236.66 L391.80,240.34 L391.90,244.03 L392.00,247.20 L392.10,247.20 L392.20,247.20 L392.30,247.20 L392.40,247.20 L392.50,247.20 L392.60,247.20 L392.70,247.20 L392.80,247.20 L392.90,247.20 L393.00,247.20 L393.10,244.87 L393.20,241.16 L393.30,237.45 L393.40,233.74 L393.50,230.02 L393.60,226.30 L393.70,222.58 L393.80,218.84 L393.90,216.60 L394.00,220.32 L394.10,224.05 L394.20,227.78 L394.30,231.51 L394.40,235.25 L394.50,238.99 L394.60,242.74 L394.70,246.49 L394.80,247.20 L394.90,247.20 L395.00,247.20 L395.10,247.20 L395.20,247.20 L395.30,247.20 L395.40,247.20 L395.50,247.20 L395.60,247.20 L395.70,247.20 L395.80,246.59 L395.90,242.83 L396.00,239.06 L396.10,235.29 L396.20,231.51 L396.30,227.73 L396.40,223.95 L396.50,220.16 L396.60,216.36 L396.70,218.63 L396.80,222.41 L396.90,226.20 L397.00,229.99 L397.10,233.79 L397.20,237.59 L397.30,241.40 L397.40,245.21 L397.50,247.20 L397.60,247.20 L397.70,247.20 L397.80,247.20 L397.90,247.20 L398.00,247.20 L398.10,247.20 L398.20,247.20 L398.30,247.20 L398.40,247.20 L398.50,247.20" stroke="#ffa500" stroke-width="1.2"/>
<g fill="#0000ff" stroke="none">
<rect x="46.90" y="239.42" width="4.0" height="4.2"/>
<rect x="53.06" y="239.05" width="4.0" height="4.2"/>
<rect x="59.23" y="238.63" width="4.0" height="4.2"/>
<rect x="65.39" y="238.17" width="4.0" height="4.2"/>
<rect x="71.56" y="237.65" width="4.0" height="4.2"/>
<rect x="77.72" y="237.07" width="4.0" height="4.2"/>
<rect x="83.89" y="236.41" width="4.0" height="4.2"/>
<rect x="90.06" y="235.66" width="4.0" height="4.2"/>
<rect x="96.22" y="234.79" width="4.0" height="4.2"/>
<rect x="102.38" y="233.80" width="4.0" height="4.2"/>
<rect x="108.55" y="232.66" width="4.0" height="4.2"/>
<rect x="114.72" y="231.32" width="4.0" height="4.2"/>
<rect x="120.88" y="229.75" width="4.0" height="4.2"/>
<rect x="127.04" y="227.89" width="4.0" height="4.2"/>
<rect x="133.21" y="225.66" width="4.0" height="4.2"/>
<rect x="139.38" y="222.97" width="4.0" height="4.2"/>
<rect x="145.54" y="219.69" width="4.0" height="4.2"/>
<rect x="151.71" y="215.65" width="4.0" height="4.2"/>
<rect x="157.87" y="210.58" width="4.0" height="4.2"/>
<rect x="164.03" y="204.18" width="4.0" height="4.2"/>
<rect x="170.20" y="196.90" width="4.0" height="4.2"/>
<rect x="176.37" y="184.70" width="4.0" height="4.2"/>
<rect x="182.53" y="169.60" width="4.0" height="4.2"/>
<rect x="188.69" y="151.40" width="4.0" height="4.2"/>
<rect x="194.86" y="128.65" width="4.0" height="4.2"/>
<rect x="201.03" y="93.80" width="4.0" height="4.2"/>
<rect x="207.19" y="65.30" width="4.0" height="4.2"/>
<rect x="213.36" y="37.05" width="4.0" height="4.2"/>
<rect x="219.52" y="16.20" width="4.0" height="4.2"/>
<rect x="225.69" y="29.75" width="4.0" height="4.2"/>
<rect x="231.85" y="50.70" width="4.0" height="4.2"/>
<rect x="238.02" y="88.50" width="4.0" height="4.2"/>
<rect x="244.18" y="118.20" width="4.0" height="4.2"/>
<rect x="250.34" y="143.90" width="4.0" height="4.2"/>
<rect x="256.51" y="166.60" width="4.0" height="4.2"/>
<rect x="262.68" y="180.70" width="4.0" height="4.2"/>
<rect x="268.84" y="192.86" width="4.0" height="4.2"/>
<rect x="275.00" y="201.78" width="4.0" height="4.2"/>
<rect x="281.17" y="208.71" width="4.0" height="4.2"/>
<rect x="287.33" y="214.16" width="4.0" height="4.2"/>
<rect x="293.50" y="218.50" width="4.0" height="4.2"/>
<rect x="299.67" y="222.00" width="4.0" height="4.2"/>
<rect x="305.83" y="224.86" width="4.0" height="4.2"/>
<rect x="312.00" y="227.22" width="4.0" height="4.2"/>
<rect x="318.16" y="229.19" width="4.0" height="4.2"/>
<rect x="324.32" y="230.85" width="4.0" height="4.2"/>
<rect x="330.49" y="232.26" width="4.0" height="4.2"/>
<rect x="336.65" y="233.46" width="4.0" height="4.2"/>
<rect x="342.82" y="234.50" width="4.0" height="4.2"/>
<rect x="348.98" y="235.39" width="4.0" height="4.2"/>
<rect x="355.15" y="236.18" width="4.0" height="4.2"/>
<rect x="361.31" y="236.87" width="4.0" height="4.2"/>
<rect x="367.48" y="237.47" width="4.0" height="4.2"/>
<rect x="373.64" y="238.01" width="4.0" height="4.2"/>
<rect x="379.81" y="238.49" width="4.0" height="4.2"/>
<rect x="385.97" y="238.92" width="4.0" height="4.2"/>
<rect x="392.14" y="239.30" width="4.0" height="4.2"/>
</g>
<path d="M46.50,241.65 L50.06,241.45 L53.61,241.24 L57.17,241.01 L60.72,240.77 L64.28,240.51 L67.83,240.24 L71.39,239.94 L74.94,239.63 L78.50,239.29 L82.06,238.93 L85.61,238.54 L89.17,238.12 L92.72,237.67 L96.28,237.18 L99.83,236.65 L103.39,236.07 L106.94,235.45 L110.50,234.77 L114.06,234.02 L117.61,233.21 L121.17,232.31 L124.72,231.33 L128.28,230.24 L131.83,229.03 L135.39,227.69 L138.94,226.20 L142.50,224.52 L146.06,222.65 L149.61,220.53 L153.17,218.14 L156.72,215.41 L160.28,212.31 L163.83,208.75 L167.39,204.64 L170.94,199.90 L174.50,194.39 L178.06,187.97 L181.61,180.46 L185.17,171.66 L188.72,161.36 L192.28,149.31 L195.83,135.33 L199.39,119.34 L202.94,101.45 L206.50,82.20 L210.06,62.68 L213.61,44.70 L217.17,30.62 L220.72,22.82 L224.28,22.82 L227.83,30.62 L231.39,44.70 L234.94,62.68 L238.50,82.20 L242.06,101.45 L245.61,119.34 L249.17,135.33 L252.72,149.31 L256.28,161.36 L259.83,171.66 L263.39,180.46 L266.94,187.97 L270.50,194.39 L274.06,199.90 L277.61,204.64 L281.17,208.75 L284.72,212.31 L288.28,215.41 L291.83,218.14 L295.39,220.53 L298.94,222.65 L302.50,224.52 L306.06,226.20 L309.61,227.69 L313.17,229.03 L316.72,230.24 L320.28,231.33 L323.83,232.31 L327.39,233.21 L330.94,234.02 L334.50,234.77 L338.06,235.45 L341.61,236.07 L345.17,236.65 L348.72,237.18 L352.28,237.67 L355.83,238.12 L359.39,238.54 L362.94,238.93 L366.50,239.29 L370.06,239.63 L373.61,239.94 L377.17,240.24 L380.72,240.51 L384.28,240.77 L387.83,241.01 L391.39,241.24 L394.94,241.45 L398.50,241.65" stroke="#000" stroke-width="1.7"/>
</g>
<g stroke="#1c1c1c" stroke-width="1" fill="none">
<rect x="46.5" y="0.5" width="352.0" height="246.7"/>
<path d="M46.5,247.20h3.6M398.5,247.20h-3.6"/>
<path d="M46.5,172.27h3.6M398.5,172.27h-3.6"/>
<path d="M46.5,97.34h3.6M398.5,97.34h-3.6"/>
<path d="M46.5,22.41h3.6M398.5,22.41h-3.6"/>
<path d="M46.50,247.2v-3.6M46.50,0.5v3.6"/>
<path d="M134.50,247.2v-3.6M134.50,0.5v3.6"/>
<path d="M222.50,247.2v-3.6M222.50,0.5v3.6"/>
<path d="M310.50,247.2v-3.6M310.50,0.5v3.6"/>
<path d="M398.50,247.2v-3.6M398.50,0.5v3.6"/>
</g>
<path d="M339.8,11.65H380.3" stroke="#ff0000" stroke-width="1"/>
<path d="M339.8,27.0H380.3" stroke="#006400" stroke-width="1.1"/>
<path d="M339.8,42.35H380.3" stroke="#ffa500" stroke-width="1"/>
<rect x="358.1" y="55.800000000000004" width="3.8" height="3.8" fill="#0000ff"/>
<path d="M339.8,72.9H380.3" stroke="#000" stroke-width="1.8"/>
<g style="will-change:transform" font-family="Liberation Sans, sans-serif" font-size="12" fill="#000" text-anchor="end">
<text x="330.6" y="15.95">T=50</text>
<text x="330.6" y="31.30">T=100</text>
<text x="330.6" y="46.65">T=5000</text>
<text x="330.6" y="62.00">T=500</text>
<text x="330.6" y="77.20">exact</text>
</g>
<g style="will-change:transform" font-family="Liberation Sans, sans-serif" font-size="15.3" fill="#000">
<text transform="translate(37.40,252.20) scale(1,1.07)" text-anchor="end" >0</text>
<text transform="translate(37.40,177.27) scale(1,1.07)" text-anchor="end" >1</text>
<text transform="translate(37.40,102.34) scale(1,1.07)" text-anchor="end" >2</text>
<text transform="translate(37.40,27.41) scale(1,1.07)" text-anchor="end" >3</text>
<text transform="translate(48.50,267.45) scale(1,1.07)" text-anchor="middle" >0.2</text>
<text transform="translate(136.50,267.45) scale(1,1.07)" text-anchor="middle" >0.3</text>
<text transform="translate(224.50,267.45) scale(1,1.07)" text-anchor="middle" >0.4</text>
<text transform="translate(312.50,267.45) scale(1,1.07)" text-anchor="middle" >0.5</text>
<text transform="translate(400.50,267.45) scale(1,1.07)" text-anchor="middle" >0.6</text>
<text transform="translate(203.40,283.00) scale(1,1.07)" text-anchor="start" >(arb. u.)</text>
<text transform="translate(188.20,283.00) scale(1,1.07)" text-anchor="start" font-family="Liberation Serif, serif" font-size="16.5">ω</text>
<g transform="translate(16.6,175.6) rotate(-90)">
<text transform="translate(0.00,0.00) scale(1,1.07)" text-anchor="start" >Re</text>
<text transform="translate(23.80,0.00) scale(1,1.07)" text-anchor="start" font-family="Liberation Serif, serif" font-size="15.5" stroke="#000" stroke-width="0.25">ξ</text>
<path d="M25.7,-13.9 L27.2,-15.6 L28.7,-13.9" fill="none" stroke="#000" stroke-width="0.9"/>
<text transform="translate(31.00,4.30) scale(1,1.07)" text-anchor="start" font-size="12">LP</text>
<text transform="translate(50.20,0.00) scale(1,1.07)" text-anchor="start" >(arb. u.)</text>
</g>
</g>
</svg>
</body></html>
